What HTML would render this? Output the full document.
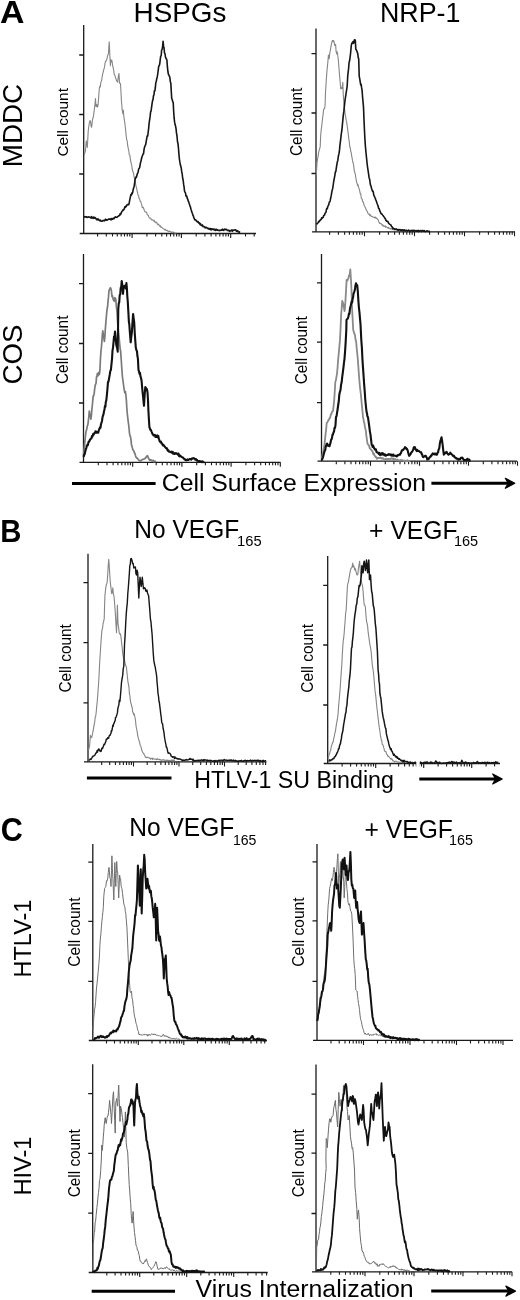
<!DOCTYPE html>
<html><head><meta charset="utf-8"><style>
html,body{margin:0;padding:0;background:#fff;}
svg{display:block;will-change:transform;}
</style></head><body>
<svg width="520" height="1300" viewBox="0 0 520 1300">
<rect width="520" height="1300" fill="#fff"/>
<path d="M83.7,25V233.5M79.7,233.5H256M79.2,55H83.7M79.2,114.5H83.7M79.2,174H83.7" stroke="#1a1a1a" stroke-width="1.3" fill="none"/>
<path d="M97.6,233.5v3M106.3,233.5v3M112.5,233.5v3M117.3,233.5v3M121.2,233.5v3M124.5,233.5v3M127.3,233.5v3M129.8,233.5v3M132.1,233.5v4.5M146.9,233.5v3M155.6,233.5v3M161.8,233.5v3M166.6,233.5v3M170.5,233.5v3M173.8,233.5v3M176.6,233.5v3M179.1,233.5v3M181.4,233.5v4.5M196.2,233.5v3M204.9,233.5v3M211.1,233.5v3M215.9,233.5v3M219.8,233.5v3M223.1,233.5v3M225.9,233.5v3M228.4,233.5v3M230.7,233.5v4.5M245.5,233.5v3M254.2,233.5v3" stroke="#1a1a1a" stroke-width="1.1" fill="none"/>
<path d="M316,28.5V231.8M312,231.8H515M311.5,53.6H316M311.5,113H316M311.5,173.5H316" stroke="#1a1a1a" stroke-width="1.3" fill="none"/>
<path d="M329.6,231.8v3M338.4,231.8v3M344.6,231.8v3M349.4,231.8v3M353.4,231.8v3M356.8,231.8v3M359.7,231.8v3M362.2,231.8v3M364.5,231.8v4.5M379.6,231.8v3M388.4,231.8v3M394.6,231.8v3M399.4,231.8v3M403.4,231.8v3M406.8,231.8v3M409.7,231.8v3M412.2,231.8v3M414.5,231.8v4.5M429.6,231.8v3M438.4,231.8v3M444.6,231.8v3M449.4,231.8v3M453.4,231.8v3M456.8,231.8v3M459.7,231.8v3M462.2,231.8v3M464.5,231.8v4.5M479.6,231.8v3M488.4,231.8v3M494.6,231.8v3M499.4,231.8v3M503.4,231.8v3M506.8,231.8v3M509.7,231.8v3M512.2,231.8v3M514.5,231.8v4.5" stroke="#1a1a1a" stroke-width="1.1" fill="none"/>
<path d="M83.5,254V462.3M79.5,462.3H280.5M79,283.7H83.5M79,343.5H83.5M79,403H83.5" stroke="#1a1a1a" stroke-width="1.3" fill="none"/>
<path d="M98.3,462.3v3M107,462.3v3M113.1,462.3v3M117.9,462.3v3M121.8,462.3v3M125.1,462.3v3M127.9,462.3v3M130.4,462.3v3M132.7,462.3v4.5M147.5,462.3v3M156.2,462.3v3M162.3,462.3v3M167.1,462.3v3M171,462.3v3M174.3,462.3v3M177.1,462.3v3M179.6,462.3v3M181.9,462.3v4.5M196.7,462.3v3M205.4,462.3v3M211.5,462.3v3M216.3,462.3v3M220.2,462.3v3M223.5,462.3v3M226.3,462.3v3M228.8,462.3v3M231.1,462.3v4.5M245.9,462.3v3M254.6,462.3v3M260.7,462.3v3M265.5,462.3v3M269.4,462.3v3M272.7,462.3v3M275.5,462.3v3M278,462.3v3M280.3,462.3v4.5" stroke="#1a1a1a" stroke-width="1.1" fill="none"/>
<path d="M321.5,254V461.2M317.5,461.2H517M317,282.8H321.5M317,342.2H321.5M317,402.7H321.5" stroke="#1a1a1a" stroke-width="1.3" fill="none"/>
<path d="M336.3,461.2v3M344.9,461.2v3M351,461.2v3M355.7,461.2v3M359.6,461.2v3M362.9,461.2v3M365.8,461.2v3M368.3,461.2v3M370.5,461.2v4.5M385.3,461.2v3M393.9,461.2v3M400,461.2v3M404.7,461.2v3M408.6,461.2v3M411.9,461.2v3M414.8,461.2v3M417.3,461.2v3M419.5,461.2v4.5M434.3,461.2v3M442.9,461.2v3M449,461.2v3M453.7,461.2v3M457.6,461.2v3M460.9,461.2v3M463.8,461.2v3M466.3,461.2v3M468.5,461.2v4.5M483.3,461.2v3M491.9,461.2v3M498,461.2v3M502.7,461.2v3M506.6,461.2v3M509.9,461.2v3M512.8,461.2v3M515.3,461.2v3M517.5,461.2v4.5" stroke="#1a1a1a" stroke-width="1.1" fill="none"/>
<path d="M88,553.8V761.9M84,761.9H266.5M83.5,582.6H88M83.5,642.6H88M83.5,702.8H88" stroke="#1a1a1a" stroke-width="1.3" fill="none"/>
<path d="M101.7,761.9v3M109.7,761.9v3M115.4,761.9v3M119.8,761.9v3M123.4,761.9v3M126.5,761.9v3M129.1,761.9v3M131.4,761.9v3M133.5,761.9v4.5M147.2,761.9v3M155.2,761.9v3M160.9,761.9v3M165.3,761.9v3M168.9,761.9v3M172,761.9v3M174.6,761.9v3M176.9,761.9v3M179,761.9v4.5M192.7,761.9v3M200.7,761.9v3M206.4,761.9v3M210.8,761.9v3M214.4,761.9v3M217.5,761.9v3M220.1,761.9v3M222.4,761.9v3M224.5,761.9v4.5M238.2,761.9v3M246.2,761.9v3M251.9,761.9v3M256.3,761.9v3M259.9,761.9v3M263,761.9v3M265.6,761.9v3" stroke="#1a1a1a" stroke-width="1.1" fill="none"/>
<path d="M327.7,556V763.5M323.7,763.5H500M323.2,585.4H327.7M323.2,645H327.7M323.2,705H327.7" stroke="#1a1a1a" stroke-width="1.3" fill="none"/>
<path d="M342.1,763.5v3M350.6,763.5v3M356.6,763.5v3M361.3,763.5v3M365.1,763.5v3M368.3,763.5v3M371,763.5v3M373.5,763.5v3M375.7,763.5v4.5M390.1,763.5v3M398.6,763.5v3M404.6,763.5v3M409.3,763.5v3M413.1,763.5v3M416.3,763.5v3M419,763.5v3M421.5,763.5v3M423.7,763.5v4.5M438.1,763.5v3M446.6,763.5v3M452.6,763.5v3M457.3,763.5v3M461.1,763.5v3M464.3,763.5v3M467,763.5v3M469.5,763.5v3M471.7,763.5v4.5M486.1,763.5v3M494.6,763.5v3" stroke="#1a1a1a" stroke-width="1.1" fill="none"/>
<path d="M92.8,844V1040.5M88.8,1040.5H267M88.3,862.2H92.8M88.3,921.4H92.8M88.3,981.3H92.8" stroke="#1a1a1a" stroke-width="1.3" fill="none"/>
<path d="M106.5,1040.5v3M114.5,1040.5v3M120.2,1040.5v3M124.6,1040.5v3M128.2,1040.5v3M131.3,1040.5v3M133.9,1040.5v3M136.2,1040.5v3M138.3,1040.5v4.5M152,1040.5v3M160,1040.5v3M165.7,1040.5v3M170.1,1040.5v3M173.7,1040.5v3M176.8,1040.5v3M179.4,1040.5v3M181.7,1040.5v3M183.8,1040.5v4.5M197.5,1040.5v3M205.5,1040.5v3M211.2,1040.5v3M215.6,1040.5v3M219.2,1040.5v3M222.3,1040.5v3M224.9,1040.5v3M227.2,1040.5v3M229.3,1040.5v4.5M243,1040.5v3M251,1040.5v3M256.7,1040.5v3M261.1,1040.5v3M264.7,1040.5v3" stroke="#1a1a1a" stroke-width="1.1" fill="none"/>
<path d="M317,844V1040.4M313,1040.4H513M312.5,861.9H317M312.5,920.8H317M312.5,981.4H317" stroke="#1a1a1a" stroke-width="1.3" fill="none"/>
<path d="M331,1040.4v3M339.2,1040.4v3M345,1040.4v3M349.5,1040.4v3M353.2,1040.4v3M356.3,1040.4v3M359,1040.4v3M361.4,1040.4v3M363.5,1040.4v4.5M377.5,1040.4v3M385.7,1040.4v3M391.5,1040.4v3M396,1040.4v3M399.7,1040.4v3M402.8,1040.4v3M405.5,1040.4v3M407.9,1040.4v3M410,1040.4v4.5M424,1040.4v3M432.2,1040.4v3M438,1040.4v3M442.5,1040.4v3M446.2,1040.4v3M449.3,1040.4v3M452,1040.4v3M454.4,1040.4v3M456.5,1040.4v4.5M470.5,1040.4v3M478.7,1040.4v3M484.5,1040.4v3M489,1040.4v3M492.7,1040.4v3M495.8,1040.4v3M498.5,1040.4v3M500.9,1040.4v3M503,1040.4v4.5" stroke="#1a1a1a" stroke-width="1.1" fill="none"/>
<path d="M92.7,1064.2V1272.5M88.7,1272.5H267.7M88.2,1093.7H92.7M88.2,1153.3H92.7M88.2,1213.1H92.7" stroke="#1a1a1a" stroke-width="1.3" fill="none"/>
<path d="M106.8,1272.5v3M115.1,1272.5v3M121,1272.5v3M125.6,1272.5v3M129.3,1272.5v3M132.4,1272.5v3M135.1,1272.5v3M137.5,1272.5v3M139.7,1272.5v4.5M153.8,1272.5v3M162.1,1272.5v3M168,1272.5v3M172.6,1272.5v3M176.3,1272.5v3M179.4,1272.5v3M182.1,1272.5v3M184.5,1272.5v3M186.7,1272.5v4.5M200.8,1272.5v3M209.1,1272.5v3M215,1272.5v3M219.6,1272.5v3M223.3,1272.5v3M226.4,1272.5v3M229.1,1272.5v3M231.5,1272.5v3M233.7,1272.5v4.5M247.8,1272.5v3M256.1,1272.5v3M262,1272.5v3M266.6,1272.5v3" stroke="#1a1a1a" stroke-width="1.1" fill="none"/>
<path d="M316,1064.6V1271.8M312,1271.8H512M311.5,1094.2H316M311.5,1153.2H316M311.5,1213.5H316" stroke="#1a1a1a" stroke-width="1.3" fill="none"/>
<path d="M330.8,1271.8v3M339.4,1271.8v3M345.5,1271.8v3M350.2,1271.8v3M354.1,1271.8v3M357.4,1271.8v3M360.3,1271.8v3M362.8,1271.8v3M365,1271.8v4.5M379.8,1271.8v3M388.4,1271.8v3M394.5,1271.8v3M399.2,1271.8v3M403.1,1271.8v3M406.4,1271.8v3M409.3,1271.8v3M411.8,1271.8v3M414,1271.8v4.5M428.8,1271.8v3M437.4,1271.8v3M443.5,1271.8v3M448.2,1271.8v3M452.1,1271.8v3M455.4,1271.8v3M458.3,1271.8v3M460.8,1271.8v3M463,1271.8v4.5M477.8,1271.8v3M486.4,1271.8v3M492.5,1271.8v3M497.2,1271.8v3M501.1,1271.8v3M504.4,1271.8v3M507.3,1271.8v3M509.8,1271.8v3M512,1271.8v4.5" stroke="#1a1a1a" stroke-width="1.1" fill="none"/>
<polyline points="84.2,155 84.8,152.9 85.4,151.3 86.3,140.8 86.8,144.6 87.3,147.5 87.8,139.1 88.2,131.2 88.7,127 89.2,123.5 89.7,121.1 90.2,120.6 90.7,122.6 91.1,126.2 91.6,127.3 92.1,123.4 92.6,118.7 93,118.3 93.5,115.8 94,112.2 94.5,108.1 95,103.7 95.5,98.5 95.9,106.2 96.4,106.4 96.9,104.5 97.4,107.1 97.9,106.2 98.4,100.9 98.8,95.1 99.3,88.8 99.8,86 100.3,86.9 100.8,82.7 101.2,81.4 101.7,80.2 102.2,76.3 102.7,73.5 103.2,72.2 103.6,70.2 104.1,68.7 104.6,66.4 105.1,62.9 105.6,61.2 106,61.3 106.5,60 107,58.6 107.5,56.2 108,54.4 108.4,54.2 109.2,41.7 109.9,56.2 110.4,65.8 110.8,60 111.3,62 111.8,60 112.3,63.2 112.8,66.5 113.2,67.7 113.7,70.3 114.2,74.4 114.7,74.9 115.2,76.6 115.7,78.3 116.1,79.1 116.6,80.9 117.1,81.4 117.6,82.1 118.1,78.7 118.5,75.3 119,73.5 119.5,83.1 120,83 120.5,84 120.9,90.8 121.4,100.4 122.2,110 122.9,113.8 123.3,110 123.8,116 124.3,119.6 124.8,122.7 125.3,127.3 125.8,131.9 126.2,136 126.7,139.6 127.2,141 127.7,145.6 128.2,148.2 128.8,150.8 129.3,155 129.9,155.2 130.4,160 130.9,161.9 131.3,164.2 131.8,165.8 132.2,169 132.7,170.8 133.2,172.6 133.6,173.3 134.1,177 134.5,178.7 135,180 135.5,183.3 136,186.2 136.5,187.7 137,190.5 137.6,192.9 138.1,195.4 138.6,195.7 139,198.3 139.5,198.7 139.9,200 140.4,201.5 140.9,201.9 141.3,203.4 141.8,204.9 142.2,207.3 142.7,207.7 143.2,207.3 143.7,208.4 144.2,210.1 144.8,211.6 145.3,211.9 145.8,212.3 146.3,212 146.8,212.7 147.3,214.8 147.8,215 148.3,215.5 148.8,216.9 149.3,217.8 149.8,218.3 150.3,218.1 150.8,218.6 151.2,219.1 151.7,220 152.2,219.9 152.7,220 153.2,220.6 153.6,220.9 154.1,220.1 154.5,221.8 155,221.5 155.5,222.5 156,222.8 156.6,222.1 157.1,223.3 157.6,224.5 158.1,224.6 158.6,224.2 159.1,225.3 159.6,226.2 160.2,225.6 160.7,227.2 161.2,226.9 161.7,227.5 162.2,227.6 162.7,228.2 163.2,228.7 163.7,228.9 164.2,229.2 164.7,229.9 165.2,229.4 165.7,229.7 166.1,230.5 166.6,230.3 167.1,230.2 167.6,231.1 168.1,231 168.6,231.7 169.1,231.2 169.5,231 170,231.6 170.5,231.8 170.9,231.9 171.4,232.6 171.9,232.3 172.4,232 172.8,232.8 173.3,232.1 173.7,232.3 174.2,232.8 174.7,233.1 175.1,233.1 175.6,233 176,233 176.5,233" stroke="#858585" stroke-width="1.1" fill="none" stroke-linejoin="round"/>
<polyline points="316.3,175 316.6,169.6 317.1,161.9 317.6,159 318.1,156.3 318.6,152.7 319.1,150.5 319.7,148.8 320.2,146.5 320.7,135 321.2,130 321.7,126.2 322.2,121.3 322.7,117.5 323.1,114.4 323.6,109.8 324.1,108.8 324.6,108.7 325.1,105 325.5,92.5 326.3,80 327,70.4 327.9,61.7 328.4,55 329.2,58.8 329.9,52.1 330.4,50.1 330.8,47.3 331.3,44.6 331.8,42.4 332.3,40.6 332.8,40.6 333.2,41.7 333.7,40.6 334.2,42.6 334.7,45.4 335.1,45.4 335.6,44.4 336.1,51.4 336.6,54 337.1,51.6 337.6,54 338.5,61.7 339.2,71.3 340,80 340.7,88.7 341.3,87.5 341.9,88.7 342.4,85.8 342.8,82.4 343.3,95.4 343.8,101.6 344.3,106.9 344.8,111 345.2,114.6 345.7,116.7 346.2,120.4 346.7,122.3 347.5,128 348.1,132.9 348.6,137.3 349.1,140.4 349.7,146.2 350.2,148 350.7,150.8 351.1,152.5 351.6,155.4 352,157.7 352.5,160.4 353,162.8 353.4,163.7 353.9,167.4 354.3,171 354.8,172.7 355.3,174 355.7,177 356.2,179.9 356.6,182 357.1,183.5 357.6,185.8 358,184.7 358.5,186.9 358.9,188.1 359.4,189.6 359.9,191.9 360.3,194 360.8,193.8 361.2,197.7 361.7,198.8 362.2,199.2 362.7,201.8 363.2,201.7 363.8,204 364.3,205.9 364.8,206.5 365.3,207.4 365.8,208.7 366.3,210.1 366.8,210.7 367.3,211.6 367.8,212.7 368.3,214.1 368.8,214.3 369.4,214.1 369.9,215.8 370.4,214.7 370.9,215.8 371.4,216.5 371.9,216.2 372.4,216.6 373,217.2 373.5,217.2 374,217.3 374.5,217.9 375,217 375.6,217.3 376.1,218.6 376.6,218.1 377.1,218.8 377.6,219.1 378.1,219.7 378.6,221.8 379.2,222.3 379.7,223.4 380.2,223.5 380.7,223.4 381.1,224.1 381.6,223.9 382,225 382.5,225.7 383,224.9 383.4,226.3 383.9,226.3 384.3,226.1 384.8,226.5 385.3,225.9 385.7,227.4 386.2,226.9 386.6,226.9 387.1,227.5 387.6,227.6 388,228.2 388.5,227.4 388.9,228.4 389.4,228.1 389.9,228.8 390.3,229 390.8,228.5 391.2,228.4 391.7,229.2 392.2,229 392.6,229.2 393.1,229.8 393.5,229.4 394,229.6 394.5,228.9 394.9,229.5 395.4,229.1 395.8,230 396.3,229.9 396.8,229.6 397.2,229.9 397.7,230.2 398.1,230 398.6,230.4 399,230 399.5,230.4 400,230.6 400.4,230.7 400.9,229.9 401.3,230.5 401.8,229.6 402.2,229.9 402.7,229.7 403.2,230.7 403.6,230 404.1,230.4 404.5,230.4 405,230.5 405.5,230.5 405.9,230.3 406.4,230.6 406.8,231.1 407.3,230.6 407.7,230.8 408.2,230.9 408.6,230.6 409.1,230.2 409.5,230.5 410,231 410.5,230.1 410.9,230.5 411.4,231 411.8,231 412.3,230.7 412.7,231 413.2,230.8 413.6,230.4 414.1,230.3 414.5,230.6 415,231.1 415.5,230.7 415.9,230.6 416.4,230.6 416.8,230.4 417.3,230.9 417.7,230.6 418.2,231.1 418.6,230.3 419.1,231.1 419.5,230.8 420,231" stroke="#858585" stroke-width="1.1" fill="none" stroke-linejoin="round"/>
<polyline points="83.6,455.6 84.1,449.5 84.5,445.9 85,440.3 85.5,435.4 86,431.7 86.4,430.3 86.8,428.9 87.3,426.1 87.8,424.9 88.2,422 88.8,417.1 89.3,411 89.8,414.3 90.4,416.7 90.9,419.2 91.4,415.7 91.8,410.4 92.3,405.5 92.8,400.4 93.2,395.8 93.7,395.9 94.2,393.6 94.6,389.3 95,386.4 95.5,384.2 96,383.6 96.5,377 96.9,376.7 97.4,373.5 97.9,375.8 98.5,372.7 99,374.6 99.5,374 100,368.8 100.4,359.2 100.9,352 101.4,347.4 101.8,342.5 102.3,335 102.8,330.8 103.3,334.3 103.9,338.3 104.4,341.5 104.9,336.5 105.3,329.4 105.8,323.1 106.3,317.3 106.9,310.5 107.6,306.5 108.1,300.6 108.5,297 109,290.4 109.7,289.2 110.3,287.7 110.8,288.5 111.4,290.6 112,296.6 112.5,295.8 113.1,299.2 113.7,300.3 114.3,301.2 114.8,297.5 115.2,300.3 115.7,298.5 116.3,305.9 117,312 117.5,320.5 117.9,325.1 118.4,330.8 119.1,337.4 119.7,344.2 120.2,349.3 120.6,350.9 121.1,357.7 121.8,368.3 122.4,376.5 122.9,380.3 123.3,382.8 123.8,387 124.3,390.4 124.8,392.8 125.4,391.6 125.9,395 126.4,400.6 126.8,407.8 127.3,413.8 127.8,418 128.2,421.6 128.7,425.2 129.2,430 129.6,434.1 130.1,436.1 130.6,437.2 131,439.8 131.4,444.4 131.9,446 132.4,448 132.9,449.8 133.4,450.6 133.9,451 134.4,453 134.9,453.2 135.4,455.3 135.9,457 136.4,457.5 136.9,458.2 137.4,458.2 137.9,458.9 138.4,459.7 138.9,460.1 139.4,460.7 139.9,461 140.3,460.9 140.8,460.4 141.2,460.6 141.7,460.1 142.2,459.6 142.6,459.4 143.1,459.4 143.5,459.2 144,459 144.4,458.7 144.9,458.6 145.3,458.3 145.9,457.6 146.4,456.4 146.9,456.5 147.5,455.6 148,457.2 148.4,458 148.9,458.8 149.4,460 149.9,460.3 150.3,459.9 150.8,459.7 151.3,460.5 151.8,460.3 152.2,461 152.7,460.5 153.2,460.3 153.6,460.8 154.1,461.8 154.6,461.3 155.1,461.1 155.5,461.4 156,461.8" stroke="#7a7a7a" stroke-width="1.7" fill="none" stroke-linejoin="round"/>
<polyline points="321.8,459 322.6,454 323.2,451.6 323.7,448.9 324.3,446 324.9,440.4 325.5,434.6 326.1,429.8 326.7,423 327.4,422.5 328,421 328.5,420 329,419.5 329.5,418 330,418 330.5,416.1 331,414 331.5,414.1 332,411.6 332.5,411.6 333,411 333.6,406.1 334.2,400 334.8,390.7 335.3,382 335.9,380.3 336.4,377.1 337,373.8 337.6,367.2 338.2,358.8 338.8,352.8 339.3,347.3 339.9,340.9 340.5,330 341.1,315 341.6,309.5 342.2,301 342.7,302 343.2,303.5 343.9,307.4 344.5,311 345,308 345.5,300 346.1,289.6 346.6,280 347.1,280.8 347.5,280.6 348,279 348.5,278 349,275.4 349.5,276 350.3,269.4 351,280 351.5,290 352,307 352.6,318.5 353.2,330 353.8,331.8 354.3,333.5 354.9,334.6 355.5,339.3 356.1,341.5 356.7,348.1 357.2,353.1 357.8,358.8 358.4,367.4 358.9,374.8 359.5,382 359.9,386.4 360.4,390.6 360.9,394.5 361.3,399 361.9,405.7 362.4,410.3 363,417.3 363.5,419.1 363.9,421.9 364.4,423.1 364.8,426.2 365.3,428.8 365.8,430.4 366.2,434.3 366.7,438.2 367.1,441.1 367.6,443.8 368.1,444.6 368.6,445.3 369.1,445.5 369.6,448.1 370.1,448.2 370.6,449.4 371.1,449.6 371.6,450 372.1,451.2 372.6,451.2 373,453.3 373.5,454.2 374,453.7 374.5,455.4 375,456.1 375.4,457 375.9,456.7 376.3,457.4 376.8,458.8 377.3,458.2 377.8,458.2 378.3,457.7 378.9,458.1 379.4,458 379.9,457.9 380.4,457.5 380.9,458 381.3,458.6 381.8,458.7 382.3,457.9 382.8,458.5 383.2,458.5 383.7,458.8 384.2,459.4 384.7,459.3 385.1,459.3 385.6,459.5 386,458.7 386.5,458.8 387,459.2 387.4,459.1 387.9,459 388.3,459.1 388.8,458.8 389.2,459.3 389.7,459.1 390.2,458.9 390.6,458.7 391.1,458.8 391.5,458.1 392,458.8 392.5,458.5 392.9,459 393.4,458.5 393.9,459.3 394.4,459.4 394.9,458.9 395.3,459.4 395.8,459.5 396.3,459.9 396.8,460 397.2,459.9 397.7,459.7 398.2,460.1 398.7,460.2 399.1,460.5 399.6,460.4 400.1,460.5 400.5,460.2 401,460 401.4,460.4 401.9,460.3 402.3,460.2 402.8,460.5 403.2,460.5 403.7,460.7 404.1,460.8 404.6,460.6 405,461.2 405.5,460.6 405.9,461.1 406.4,460.8 406.8,461.2 407.3,460.2 407.7,460.6 408.2,461 408.6,461.1 409.1,461.2 409.5,461.1 410,461" stroke="#8a8a8a" stroke-width="1.8" fill="none" stroke-linejoin="round"/>
<polyline points="88.5,750 89.1,748.1 89.7,744.6 90.4,735.4 91,737.1 91.5,737.7 92.1,736 92.7,733 93.2,730.3 93.8,726.7 94.3,723.8 94.8,721.3 95.2,717.1 95.7,716.2 96.2,712.3 96.8,705.6 97.3,700.8 97.9,692.9 98.5,684.6 99,676.5 99.6,664 100.2,654.2 100.8,645 101.3,637.7 101.9,630.4 102.5,628.5 103.1,623.5 103.7,621.2 104.2,618.8 104.9,595.8 105.8,587.7 106.3,584.6 106.7,584.2 107.2,581.9 107.7,574.7 108.2,565.8 108.8,559.3 109.5,570.4 110,578.3 110.5,584.2 111,587.7 111.6,593.5 112.2,593.1 112.8,587.7 113.3,593.5 113.7,594.6 114.2,598 115.1,609.6 115.6,617.7 116,624.4 116.5,632.7 117,620.7 117.4,605 118,623.5 118.6,627.2 119.2,632.7 119.8,634.1 120.4,633.8 121,637.3 121.5,642 122.1,646.9 122.7,653.5 123.2,656.2 123.6,658.7 124.1,659 124.5,660.1 125,662.7 125.6,665.3 126.2,666 126.7,669.7 127.1,673.8 127.6,678.8 128,682.1 128.5,684.6 129,687.7 129.4,694 129.9,695.6 130.3,700.1 130.8,703 131.3,704.3 131.7,706.7 132.2,707 132.6,712 133.1,712.3 133.6,714.7 134,713.6 134.4,714.5 134.9,717 135.4,719.5 136,725.6 136.5,728.5 137.1,731.2 137.6,734.6 138.2,737.7 138.6,739.2 139.1,741.1 139.6,742.2 140,744.6 140.5,746 140.9,746.5 141.4,748.7 141.8,750.3 142.3,751.5 142.8,752.6 143.3,753 143.8,753.5 144.3,754.9 144.8,755.4 145.3,757.2 145.8,757.3 146.3,757.7 146.8,757.4 147.2,757.4 147.7,757.4 148.2,757.4 148.7,757.7 149.1,758.1 149.6,758.3 150.1,758.4 150.6,759.1 151,758.1 151.5,758.5 152,758.6 152.4,759.5 152.9,758 153.4,758.6 153.8,758.9 154.3,759 154.8,759.2 155.2,759 155.7,759.3 156.2,759.3 156.6,759.6 157.1,758.6 157.6,759.1 158,759.5 158.5,759.6 159,759.2 159.4,759.3 159.9,760 160.3,759.5 160.8,760.1 161.3,760.2 161.7,760 162.2,760.2 162.6,760 163.1,759.5 163.6,760.1 164,760.3 164.5,760 164.9,760.2 165.4,760.3 165.9,760.6 166.3,760 166.8,760.6 167.2,761 167.7,760.1 168.1,760.4 168.6,760.3 169.1,760.9 169.5,760.5 170,760.7 170.4,760.2 170.9,760.4 171.3,760.4 171.8,759.8 172.3,761 172.7,760.8 173.2,759.8 173.6,760.7 174.1,760.4 174.5,760.7 175,760.5" stroke="#858585" stroke-width="1.1" fill="none" stroke-linejoin="round"/>
<polyline points="328,758.5 328.5,757.1 329.1,754.6 329.6,753.8 330.1,751.4 330.7,750.2 331.2,747 331.7,745.4 332.1,744 332.6,742.5 333.1,742.3 333.7,738.3 334.3,736.4 334.9,733 335.4,731.3 336,727.2 336.5,723.8 337.1,720.6 337.7,717 338.1,713.7 338.6,706.1 339.1,700.7 339.5,696.2 340.1,689.1 340.6,681.4 341.2,673 341.8,665 342.3,654.4 342.8,646.5 343.3,640.3 343.7,637.7 344.2,632.7 344.6,627.3 345.1,621.2 345.6,613.5 346.2,609.6 346.8,597.7 347.4,586.5 347.8,583.3 348.3,582.6 348.8,579.4 349.2,577.3 349.8,573.7 350.4,570.4 350.9,568.6 351.5,568 352.1,567.2 352.7,563 353.2,567 353.8,565.7 354.3,568 354.8,570.2 355.2,568.4 355.7,570.4 356.2,572.1 356.8,574.7 357.3,575 357.8,574.4 358.4,568.2 358.9,565.8 359.6,561.2 360.2,569.1 360.8,577.3 361.4,581.1 361.9,584.2 362.5,585.3 363.1,591.2 363.6,598.1 364.2,605 364.8,605.1 365.4,607.3 365.9,614.8 366.5,621.2 367.1,623.4 367.6,626.1 368.2,632.7 368.9,637.4 369.5,642 370.1,645.7 370.6,647.9 371.2,652 371.8,659.6 372.3,665 372.9,668.7 373.5,673 374,678.5 374.6,685.9 375.1,691.5 375.7,695.2 376.3,701.6 376.9,707.7 377.4,711.7 377.9,716.5 378.3,719.6 378.8,723.8 379.3,727.9 379.9,731 380.4,735.4 380.9,737.5 381.3,740.3 381.8,740.4 382.2,744.2 382.7,744.6 383.2,745.5 383.6,747.4 384.1,748.8 384.5,750.8 385,751.5 385.5,751.4 386,751.7 386.5,753.9 387,754.6 387.5,755.2 388,756.6 388.5,756.2 389,756.8 389.4,757.2 389.9,758 390.3,758.2 390.8,759.3 391.3,758.4 391.7,759.3 392.2,759 392.6,760.7 393.1,760.8 393.6,760.8 394,761.4 394.5,762 394.9,761.3 395.4,761.3 395.9,761.3 396.3,761.3 396.8,761.5 397.2,762.1 397.7,762 398.2,762 398.6,762.1 399.1,762 399.5,762.5 400,762.3 400.4,762.1 400.9,762.5 401.4,762.2 401.8,761.9 402.3,762.8 402.7,762.5 403.2,762 403.6,762.8 404.1,762.6 404.5,761.9 405,762.5" stroke="#858585" stroke-width="1.1" fill="none" stroke-linejoin="round"/>
<polyline points="93,1030 93.7,1018.8 94.6,1009.2 95.1,1006.9 95.6,1001.5 96,995.1 96.5,988 97,983.9 97.6,978 98.1,972.7 98.8,964.7 99.4,957 99.9,945.3 100.4,938 100.9,933.9 101.4,926.8 101.9,921.2 102.4,916.2 102.8,912.8 103.3,907.7 103.8,896.2 104.6,888.5 105.2,887.6 105.8,886.5 106.5,880.8 107.1,881 107.7,878.8 108.3,872.4 109,867.3 109.5,873 110,878.8 110.5,879.1 111,886.5 111.5,870.4 111.9,855.8 112.4,868.5 112.9,878.8 113.8,900 114.3,883.6 114.8,862.5 115.3,873.8 115.8,886.5 116.2,873.8 116.7,861.5 117.2,870.1 117.7,873 118.2,884.9 118.7,898 119.6,875 120.1,878.2 120.6,878.8 121.2,886.6 121.9,888.5 122.5,893.3 123.1,898 123.8,903.9 124.4,905.8 124.9,907.2 125.3,911.3 125.8,913.5 126.3,920.1 126.9,927 127.5,940 128.3,959.2 129.2,978.5 129.7,985.3 130.2,991.9 130.8,992.7 131.5,991 132,997.9 132.6,999.9 133.1,1005.4 133.6,1008.7 134.1,1013.5 134.6,1016.9 135.1,1018 135.6,1021.1 136,1023.1 136.5,1024.6 137,1026.3 137.4,1028.8 137.9,1030.4 138.4,1031.4 138.8,1034.2 139.3,1034.9 139.8,1033.9 140.3,1034.6 140.8,1035.2 141.3,1034.8 141.8,1034.7 142.2,1035.3 142.7,1034.7 143.2,1034.4 143.7,1034.7 144.1,1035.2 144.6,1034.2 145.1,1034.3 145.6,1034.6 146.1,1035.2 146.6,1034.8 147,1034.1 147.5,1036 148,1036.1 148.5,1035.2 149,1034 149.4,1034.9 149.9,1035 150.4,1035.2 150.9,1034.9 151.4,1034.3 151.8,1033.7 152.3,1034.2 152.8,1034.4 153.3,1035 153.8,1034 154.2,1034.1 154.7,1034.8 155.2,1033.9 155.7,1034.9 156.2,1035.2 156.7,1035.1 157.1,1035.7 157.6,1035.2 158.1,1035.2 158.6,1035.6 159.1,1035.9 159.5,1035.7 160,1036.2 160.5,1036.1 160.9,1036.3 161.4,1036.4 161.9,1036.6 162.4,1035.2 162.9,1035.2 163.3,1034.3 163.8,1035.2 164.3,1036.4 164.8,1035.3 165.2,1035.9 165.7,1036.4 166.2,1035.7 166.7,1036.8 167.2,1036.8 167.7,1036.2 168.2,1037.4 168.6,1038.1 169.1,1036.9 169.6,1038 170.1,1038.4 170.5,1038.2 171,1038.3 171.4,1038.4 171.9,1038.8 172.3,1038.2 172.8,1038.7 173.2,1038.2 173.7,1038.7 174.1,1038.1 174.6,1038.4 175,1039.2 175.5,1038.8 175.9,1038.5 176.4,1038.2 176.8,1038.4 177.3,1038.8 177.7,1039.2 178.2,1039 178.6,1039.1 179.1,1038.9 179.5,1039.5 180,1039" stroke="#707070" stroke-width="1.0" fill="none" stroke-linejoin="round"/>
<polyline points="317.4,1022 318.1,1016.9 318.6,1013.4 319.1,1010 319.6,1007.3 320.1,1005 320.7,1001 321.2,997.7 321.9,994.5 322.5,991.9 323.1,984.5 323.8,978.5 324.3,974.7 324.9,972.3 325.4,968 325.9,959.5 326.3,950 326.8,934.6 327.7,913.5 328.2,904.8 328.8,900 329.6,888.5 330.1,886.7 330.7,883.7 331.2,880.8 331.7,878.4 332.2,880.8 332.7,878.8 333.4,872.5 334,867.3 334.5,869.6 335,874.5 335.5,878.3 336,878.8 336.5,871.3 336.9,867.1 337.4,858.4 337.9,853.8 338.4,874.8 338.8,888.5 339.3,878.6 339.9,872.7 340.4,861.5 341,869 341.7,878.8 342.2,870.7 342.7,859.6 343.2,876 343.7,881.7 344.2,898 344.7,887.6 345.1,879.7 345.6,869.2 346.2,878.7 346.9,888.5 347.4,892.5 348,902.1 348.5,903.8 349,905.2 349.5,903.7 350,907.7 350.6,911 351.3,911.5 351.8,914.5 352.3,923 353.1,940 353.8,959.2 354.3,965.8 354.7,968.7 355.2,974.6 355.8,990 356.5,990.7 357.1,991 357.6,996.5 358,999.5 358.5,1003.5 359,1006 359.5,1009.6 360,1015 360.5,1018.4 360.9,1020.4 361.4,1021.6 361.9,1024.6 362.4,1027.1 363,1028.8 363.5,1030.4 364.1,1032.7 364.8,1034.2 365.3,1033.1 365.8,1034 366.2,1034.7 366.7,1034.6 367.2,1034.7 367.7,1034.2 368.2,1033.2 368.6,1034.5 369.1,1034.8 369.6,1035.8 370.1,1034.3 370.6,1034.8 371,1035.1 371.5,1035.2 372,1035.5 372.5,1034.7 373,1035.4 373.4,1034.3 373.9,1034.7 374.4,1034.2 374.9,1034.4 375.4,1034.2 375.9,1033.9 376.3,1033.6 376.8,1035.2 377.3,1034.9 377.8,1034.5 378.2,1035.1 378.7,1035.6 379.2,1035.2 379.7,1034.8 380.2,1035.4 380.7,1035.9 381.1,1036 381.6,1035.7 382.1,1034.9 382.6,1036.7 383.1,1036.2 383.6,1036.5 384.1,1036.4 384.5,1036.4 385,1036.8 385.5,1036.6 385.9,1036.4 386.4,1036.6 386.9,1037.1 387.3,1036.9 387.8,1036.9 388.2,1036.7 388.7,1037.6 389.1,1036.7 389.6,1037.7 390.1,1037 390.5,1037.7 390.9,1038.2 391.4,1037.7 391.8,1037.3 392.3,1037.7 392.8,1037.8 393.2,1037 393.6,1037.6 394.1,1038 394.6,1037.7 395,1038 395.5,1038.1 395.9,1038.4 396.4,1038.5 396.8,1038.6 397.3,1038.5 397.7,1038.2 398.2,1038.3 398.6,1038.2 399.1,1038.3 399.5,1038.4 400,1037.8 400.5,1038.4 400.9,1038.6 401.4,1038.2 401.8,1038.7 402.3,1038.9 402.7,1038.7 403.2,1039.6 403.6,1038.1 404.1,1038.8 404.5,1038.2 405,1039" stroke="#707070" stroke-width="1.0" fill="none" stroke-linejoin="round"/>
<polyline points="92.9,1271 93.1,1256 93.2,1244.2 93.7,1239.4 94.2,1232.7 94.7,1231 95.1,1222.9 95.6,1221.2 96.2,1214.6 96.9,1207.7 97.4,1203.2 98,1197 98.5,1192.3 99,1188.5 99.5,1180.5 100,1178.8 100.7,1170.7 101.3,1160 101.8,1145 102.3,1150.4 102.8,1144.2 103.3,1136.9 103.8,1131.2 104.2,1125.4 104.7,1120.5 105.2,1117.7 105.7,1121.7 106.2,1123.5 107.1,1117.7 107.6,1115.9 108.1,1115.8 108.5,1112.3 109,1108.1 109.6,1100.4 110.4,1108.1 111,1114.9 111.5,1123.5 112.3,1108.1 112.9,1096.2 113.5,1091.7 114.2,1108.1 114.7,1120.5 115.2,1133.1 115.8,1102.3 116.2,1100.8 116.7,1098.5 117.2,1103.7 117.7,1106.2 118.2,1094 118.7,1085 119.2,1098.5 120,1121.5 120.6,1106.2 121,1108 121.5,1110 122,1114.9 122.5,1117.7 123,1122.8 123.5,1127.3 124,1134.2 124.4,1136.9 124.9,1127.8 125.4,1111.9 126.2,1142.7 126.9,1148.5 127.7,1152 128.3,1165.4 129.2,1184.6 129.7,1190.1 130.2,1198.1 130.7,1203.4 131.2,1213.5 131.6,1219.3 132.1,1223.1 132.6,1219 133.1,1211.5 133.6,1220.2 134,1226.9 134.5,1232.5 135,1236.5 135.5,1240.2 136,1245 136.5,1246.5 137,1247.4 137.4,1250.3 137.9,1250.4 138.3,1251.2 138.8,1254.2 139.3,1255.4 139.8,1259.5 140.3,1261.3 140.8,1262 141.3,1262 141.8,1262.4 142.2,1263.5 142.7,1263.8 143.2,1262.9 143.6,1263.7 144.1,1262.4 144.6,1262 145.1,1260.5 145.6,1261.4 146,1259.4 146.5,1259 147,1260.8 147.5,1262.4 148,1263.9 148.5,1265.8 149,1266.6 149.4,1266.7 149.9,1266.8 150.4,1267.3 150.8,1268.4 151.3,1269.6 151.8,1268.6 152.3,1268.3 152.8,1267.7 153.2,1267.4 153.7,1266.5 154.2,1265.8 154.7,1264.4 155.2,1263.5 155.7,1261.7 156.2,1262 156.7,1263.8 157.1,1266.1 157.6,1268 158.1,1269.6 158.6,1269.2 159.1,1268.9 159.6,1269.1 160,1268.3 160.5,1268.4 161,1267.7 161.5,1268.2 161.9,1268.1 162.4,1268.9 162.9,1268.1 163.3,1268.4 163.8,1268.7 164.3,1268 164.8,1267.6 165.2,1268.5 165.7,1268.3 166.2,1267 166.7,1266.7 167.2,1267.5 167.7,1268.3 168.1,1268.6 168.6,1269.2 169.1,1268.5 169.6,1269.6 170,1269.4 170.5,1270 170.9,1270.5 171.4,1269.9 171.8,1269.6 172.3,1269.9 172.8,1269.8 173.2,1269.8 173.7,1270.9 174.1,1270.1 174.6,1270.4 175,1270.5 175.5,1271.4 175.9,1271 176.4,1270.7 176.8,1270.3 177.3,1270.8 177.7,1271.3 178.2,1270.9 178.6,1271.2 179.1,1270.7 179.5,1270.9 180,1270.7 180.5,1270.9 180.9,1271.3 181.4,1270.2 181.8,1270.8 182.3,1271 182.7,1270.7 183.2,1270.8 183.6,1271.2 184.1,1271.8 184.5,1271.2 185,1271" stroke="#6a6a6a" stroke-width="1.0" fill="none" stroke-linejoin="round"/>
<polyline points="316.5,1262 316.7,1247 317.2,1245 317.6,1240.9 318.1,1240 318.6,1239.1 319,1234.6 319.5,1231.7 319.9,1227.8 320.4,1226.2 320.9,1222 321.3,1216.6 321.8,1213.8 322.2,1210.1 322.7,1205.4 323.2,1200 323.8,1195 324.3,1189.2 324.8,1182.9 325.2,1180.9 325.7,1172.7 326.2,1168.5 325.9,1160 326.2,1138.5 326.8,1140.2 327.3,1147.7 327.9,1138.1 328.5,1129.2 329.1,1122.7 329.6,1118.8 330.2,1118.8 330.8,1122.3 331.4,1118.8 331.9,1116.5 332.5,1116.5 333.1,1115.4 333.6,1108.7 334.2,1106.2 334.8,1103.1 335.4,1100.4 335.9,1109.3 336.5,1113.1 337.1,1121.2 337.7,1126.9 338.2,1109.3 338.8,1092.3 339.4,1099.5 340,1106.2 340.6,1102.5 341.2,1099.2 341.8,1104.9 342.3,1110.8 342.9,1099.4 343.5,1085.4 344.1,1089.8 344.6,1094.6 345.2,1085.1 345.8,1083.1 346.4,1094.6 346.9,1106.2 347.5,1111.5 348.1,1120 348.6,1118.8 349.2,1115.4 349.8,1124.8 350.4,1136.2 350.9,1139.9 351.5,1143.1 352.1,1148.6 352.7,1147.7 353.2,1152.2 353.8,1160 354.5,1170 355,1187 355.6,1192.4 356.2,1200.8 356.8,1208.3 357.3,1219.2 357.9,1212.3 358.5,1210 359.1,1217.1 359.6,1228.5 360.2,1235.8 360.8,1242.3 361.4,1245.6 361.9,1250 362.7,1252 363.2,1251.9 363.7,1253.6 364.2,1256.4 364.8,1256.8 365.3,1258.4 365.8,1260 366.3,1260.6 366.7,1261.6 367.2,1262.4 367.6,1262.2 368.1,1262 368.6,1262.4 369,1263.8 369.5,1263.9 369.9,1263.2 370.4,1263.8 370.9,1263.8 371.3,1263.5 371.8,1263.2 372.3,1262.6 372.8,1261.9 373.2,1262.1 373.7,1261.3 374.2,1262 374.7,1263.2 375.2,1263.3 375.7,1262.7 376.1,1264.7 376.6,1264.9 377.1,1263.8 377.6,1266.3 378.1,1265.8 378.6,1266 379.1,1266.4 379.5,1264.4 380,1265.1 380.5,1264.8 380.9,1264.4 381.4,1264.2 381.9,1263.8 382.4,1264.7 382.9,1263.6 383.3,1264.1 383.8,1264.3 384.3,1265.1 384.8,1265.4 385.3,1266.3 385.8,1266.5 386.2,1266.7 386.7,1266.7 387.2,1267.2 387.7,1267.7 388.2,1268 388.7,1267.8 389.1,1267.3 389.6,1266.9 390.1,1267.7 390.6,1266.4 391.1,1266.9 391.6,1267 392.1,1266.1 392.5,1266.6 393,1265.4 393.5,1265.8 394,1266.7 394.4,1266.5 394.9,1265.9 395.4,1267.4 395.9,1266.9 396.4,1268.3 396.8,1267.7 397.3,1268.3 397.8,1268.8 398.2,1268.8 398.7,1269.4 399.2,1269.6 399.6,1269.4 400.1,1270 400.6,1269.7 401,1269.8 401.4,1268.9 401.9,1270.3 402.3,1269.9 402.8,1269.2 403.2,1270 403.7,1270.2 404.1,1270.5 404.6,1269.6 405.1,1270.7 405.5,1270.1 405.9,1271 406.4,1270.1 406.9,1270.5 407.3,1270.1 407.8,1269.9 408.2,1270.8 408.6,1270.7 409.1,1271 409.6,1270.8 410,1270.5" stroke="#6a6a6a" stroke-width="1.0" fill="none" stroke-linejoin="round"/>
<polyline points="84,217.5 84.5,217.1 85,216.5 85.5,217 86,216.9 86.5,216.8 87,217.4 87.5,217.2 88,217 88.5,216.9 88.9,217.2 89.4,217.1 89.8,217.3 90.3,217.6 90.7,217.8 91.2,217 91.6,216.6 92.1,218.2 92.5,217.5 93,217.5 93.5,218.3 93.9,217 94.4,217.9 94.8,218.2 95.3,217.7 95.7,218.3 96.2,219.1 96.6,219.5 97.1,220 97.5,218.9 98,219.5 98.5,219 99,220.3 99.5,220.7 100,220.6 100.5,220.1 101,221 101.5,221.3 102,221.2 102.5,221 103,220.4 103.5,220.7 104,220.5 104.5,220.8 105,220 105.5,219.2 106,220.2 106.5,220.1 107,219.8 107.5,220.1 108,219.5 108.5,219.1 109,219.2 109.5,219 110,219.3 110.5,219.7 111,218.6 111.5,219.7 112,218.5 112.5,219.1 113,218.6 113.5,218.3 114,218.8 114.5,217.6 115,217.5 115.5,216.8 116,217.2 116.5,217.2 117,217.4 117.5,216.7 118.1,216.4 118.6,215.8 119.1,215.7 119.6,215.4 120.1,213.8 120.6,214.5 121.2,212.9 121.7,211.7 122.2,211.1 122.7,210.8 123.2,209.5 123.7,209.8 124.2,209.1 124.8,206.9 125.3,207.5 125.8,206.2 126.3,206.5 126.8,205.3 127.3,204.5 127.8,204.7 128.3,204.5 128.8,204.6 129.3,202.3 129.9,199.2 130.4,196.9 130.9,194.6 131.3,195.2 131.8,193.1 132.2,193.8 132.7,192.3 133.2,189.4 133.7,187.7 134.2,186.2 135,180 135.5,178.1 135.9,177.1 136.4,177.3 136.8,175.7 137.3,173.8 137.8,173.1 138.2,171.6 138.7,168.9 139.1,168.5 139.6,167.7 140.1,165.1 140.5,162.5 140.9,161.6 141.4,159 141.9,157.1 142.4,155.8 143,154.2 143.5,153.8 144.2,148.4 144.8,146.5 145.3,145.3 145.8,144.2 146.2,141.4 146.7,138.6 147.2,135.9 147.7,136 148.2,132 148.6,128.8 149.1,123.5 149.6,119.9 150.1,116.7 150.6,111.9 151.1,110.9 151.5,107.9 152,104.2 152.5,100.9 153,99.6 153.5,95.6 154,94.8 154.4,90.7 154.9,90.8 155.4,87.2 155.8,82.8 156.3,81.2 156.8,78.5 157.3,76.7 157.8,73.5 158.3,69.7 158.7,66.1 159.2,65.8 159.7,64.1 160.2,59.8 160.7,56.2 161.2,55.7 161.6,50.1 162.1,49.4 162.6,46.6 163.1,41.2 163.6,46.8 164,47.5 164.5,53.1 165,53.7 165.5,57.1 166,58.4 166.4,58.9 166.9,60 167.4,66.9 167.9,71.5 168.4,74.3 168.8,74.8 169.3,76.3 169.8,77 170.3,81.7 170.8,83.1 171.7,98.5 172.2,99.3 172.7,101.7 173.2,102.3 173.6,110.3 174.1,117.7 174.6,122.2 175.1,124.6 175.6,126.3 176.1,129.1 176.5,133.1 177,136 177.5,141.8 178,143.8 178.5,148.5 178.9,154.1 179.4,159 180,162.9 180.6,165.8 181.2,167.7 181.7,171.7 182.2,173.9 182.7,178.5 183.2,180.3 183.6,184.2 184.1,187.1 184.5,191 185,192.3 185.5,192.9 185.9,195.6 186.4,196.5 186.8,196.1 187.3,198.5 187.8,199.2 188.2,201 188.7,201.8 189.1,203.3 189.6,204.6 190.1,206.4 190.5,207.2 191,209.5 191.4,210.4 191.9,212.3 192.4,213.2 192.8,215.1 193.3,215.7 193.7,217.4 194.2,218.5 194.7,219.8 195.2,219.5 195.7,219.9 196.2,220.9 196.7,220.8 197.2,222 197.7,222 198.2,221.7 198.6,223 199.1,222.8 199.5,223 200,224.5 200.5,223.6 200.9,225.1 201.4,225 201.8,225.7 202.3,224.9 202.8,226.2 203.2,226.6 203.7,226.3 204.1,226.6 204.6,227 205.1,228 205.5,227.4 206,227.3 206.4,227.4 206.9,228 207.4,228.1 207.8,228.2 208.3,229 208.8,228.3 209.2,228.8 209.7,229.3 210.2,228.5 210.6,229.4 211.1,229.9 211.5,228.8 212,229.5 212.5,229.1 212.9,229.2 213.4,229 213.9,229.9 214.4,229.1 214.8,230 215.3,230.5 215.8,229.4 216.2,229.9 216.7,229.4 217.2,230.4 217.6,229.9 218.1,230.2 218.6,230.3 219.1,230.6 219.5,230.3 220,230.5 220.5,230.4 220.9,230.1 221.4,230.3 221.8,229.7 222.3,230.1 222.7,229.2 223.2,229.7 223.6,230.5 224.1,229.7 224.5,229.1 225,229.5 225.5,229.7 225.9,229.4 226.4,229.3 226.8,229.8 227.3,230.5 227.7,230.5 228.2,230.4 228.6,230.2 229.1,230.3 229.5,231.4 230,231 230.5,231 230.9,230.5 231.4,230 231.8,230.1 232.3,231.3 232.7,230 233.2,230.3 233.6,230.4 234.1,230.1 234.5,230 235,230 235.5,229.7 235.9,230.1 236.4,231.3 236.8,230.6 237.3,231.4 237.7,230.8 238.2,231.5 238.6,231.9 239.1,232.4 239.5,231.9 240,232.5" stroke="#151515" stroke-width="1.6" fill="none" stroke-linejoin="round"/>
<polyline points="316.5,224.5 317.1,223.5 317.6,223.3 318.1,222.6 318.6,221.6 319.2,221.7 319.7,220.5 320.2,220.4 320.7,219.5 321.2,219.4 321.7,217.8 322.2,218.3 322.7,217.3 323.2,217.3 323.7,215.6 324.1,215.2 324.6,215 325,213.4 325.5,212.7 326,212.2 326.4,209.6 326.9,208.2 327.3,208.7 327.8,206.5 328.3,205.5 328.8,204.6 329.2,202.3 329.7,202.1 330.2,200.4 330.7,198 331.2,195.7 331.7,192.7 332.2,190.2 332.7,188.4 333.2,185 333.7,181.5 334.3,178.1 334.8,175.8 335.3,172.1 335.8,171.6 336.3,168.1 336.8,164.9 337.3,162.1 337.8,160.4 338.3,156.5 338.9,153.9 339.4,151.2 339.9,145.4 340.4,141.7 340.9,137.3 341.4,133.1 341.9,130 342.4,124.7 342.8,120.4 343.3,115.1 343.8,111.7 344.3,106.9 344.8,102.1 345.3,98.4 345.7,95.8 346.2,92.5 346.7,89.4 347.2,85.8 347.7,76.2 348.1,72.7 348.6,68.5 349.1,62.3 349.6,60.8 350.5,54 351.3,45.4 351.9,43.3 352.5,42.5 353,41.5 353.4,43.4 353.9,42.5 354.4,39.8 354.8,40 355.3,40.1 355.8,49.2 356.3,49.8 356.8,51.2 357.3,52.2 357.8,54 358.2,57.6 358.7,58.8 359.2,76.2 359.7,78.6 360.2,81.9 360.7,84.9 361.1,84.2 361.6,87.7 362.1,90.5 362.6,97.3 363.5,106.9 364,120 364.8,137.3 365.4,146.1 366,152.7 366.6,158.5 367.1,163.5 367.6,167.5 368.1,170.7 368.6,174.2 369.1,177.7 369.7,179.5 370.2,183.5 370.7,185.7 371.1,186.2 371.6,188.8 372,189.7 372.5,191.2 373,191.1 373.4,192.8 373.9,195.6 374.3,196 374.8,197.3 375.3,198.3 375.7,199.9 376.2,200.7 376.6,201.9 377.1,203.5 377.6,204.8 378.1,206.2 378.6,208.3 379.2,208.7 379.7,211 380.2,211.2 380.7,213 381.2,213.7 381.7,214.1 382.2,214.3 382.7,215.1 383.2,215.8 383.7,216.5 384.2,217 384.8,218.1 385.3,218.5 385.8,220.4 386.3,220.4 386.8,221.3 387.3,221.5 387.9,221.4 388.4,222.9 388.9,223.4 389.4,224.2 389.9,224.2 390.4,224.7 390.9,224.9 391.5,226.5 392,226.8 392.5,227.3 393,228.6 393.5,228.3 394,228.8 394.5,228.8 394.9,229.5 395.4,229.1 395.8,229.2 396.3,229.1 396.8,229.1 397.2,230 397.7,229.9 398.2,230.2 398.6,229.6 399.1,229.8 399.5,229.6 400,230 400.5,230.4 400.9,229.6 401.4,230.3 401.8,230.5 402.3,230.7 402.7,229.9 403.2,230.6 403.6,230.1 404.1,230.1 404.5,229.9 405,230.8 405.5,231 405.9,230.3 406.4,230.3 406.8,230.4 407.3,231.2 407.7,230.9 408.2,230.5 408.6,230.1 409.1,230.5 409.5,231.1 410,230.8 410.5,231.4 410.9,230.7 411.4,230.6 411.8,230.7 412.3,230.3 412.7,231.2 413.2,230.5 413.6,231.2 414.1,230.4 414.5,230.5 415,231 415.5,230.7 415.9,231.2 416.4,231 416.8,230.6 417.3,231.2 417.7,231.3 418.2,230.4 418.6,231.6 419.1,231.2 419.5,231.3 420,230.5 420.5,230.8 420.9,231 421.4,231.4 421.8,230.6 422.3,230.8 422.7,230.5 423.2,231.1 423.6,231.2 424.1,230.6 424.5,231 425,231.3 425.5,231.7 425.9,231.4 426.4,231.1 426.8,230.9 427.3,230.9 427.7,231 428.2,231.3 428.6,231.3 429.1,231.8 429.5,231.4 430,231.3" stroke="#151515" stroke-width="1.6" fill="none" stroke-linejoin="round"/>
<polyline points="83.6,457 84.1,454.8 84.6,454.6 85,452.7 85.5,450.5 86,448.8 86.5,447.3 86.9,445.4 87.4,445 87.8,445.3 88.3,443 88.7,441.6 89.2,441.6 89.6,440.6 90.1,439.4 90.5,439.2 91,438.6 91.4,438.5 91.9,436.1 92.3,436.9 92.8,435.4 93.2,433.9 93.7,434.6 94.2,433.5 94.6,432.9 95,432.8 95.5,431.3 96,431.5 96.4,432.7 96.8,432.7 97.3,432.3 97.8,432 98.2,432.7 98.7,430.7 99.1,429.5 99.6,428.5 100,427.3 100.5,427.8 100.9,424.6 101.4,423 102,421 102.5,417.3 103.1,415.3 103.6,413.8 104,411.2 104.5,409.5 104.9,406 105.4,406.6 105.8,402 106.3,400.4 106.9,395 107.6,387 108,381.9 108.5,381.7 108.9,379.3 109.4,376.6 109.8,374.4 110.3,371 110.9,370 111.4,364.8 112,359.1 112.5,350.6 113,347.7 113.5,342.6 114,336.7 114.5,336.5 115,331.5 115.7,338.7 116.3,345 116.8,347 117.2,348.3 117.7,351.7 118.3,308.6 118.8,303.2 119.2,302.7 119.7,295.2 120.2,294.6 120.7,288 121.2,286.8 121.7,281 122.3,284.7 123,293.8 123.5,287.9 123.9,287.6 124.4,285.8 125.1,285.7 125.7,288.5 126.4,283 126.9,288.4 127.3,296 127.8,302 128.4,312.7 128.9,322.1 129.3,324.2 129.8,331.5 130.7,342.3 131.2,337.7 131.8,332.9 132.4,323.9 133.1,314 133.6,318 134.2,322.1 134.7,332.3 135.2,339.6 135.8,347.6 136.5,350.4 137,351.3 137.4,356 137.9,358.4 138.5,370 139,371.3 139.5,373.7 140,372.9 140.5,376.5 141,377.8 141.6,381 142.1,387 142.6,392.3 143.1,396.6 143.5,401.2 144,405.8 144.7,394.1 145.3,387 145.9,387.9 146.4,388.8 146.9,389.3 147.5,392.3 148,400 148.4,410.5 148.9,419.1 149.4,427.3 149.9,428.3 150.4,429.8 150.9,429.8 151.4,431.4 151.9,432.4 152.4,433.8 152.9,434.3 153.4,435.4 153.9,435.3 154.4,435.3 154.9,434.9 155.4,437 155.9,435.8 156.4,435.8 156.9,437 157.4,435.4 157.9,437.4 158.3,436 158.8,438.7 159.2,439.7 159.7,441.4 160.1,441.8 160.6,442.3 161,441.7 161.5,443.5 162,443.4 162.5,444.7 163,445.4 163.5,444.8 164,445.7 164.5,446.2 165,447 165.5,447.5 166,448.2 166.5,448.3 167,448.2 167.5,450.3 168,451 168.5,450.4 169,451.6 169.5,451.5 169.9,451.9 170.4,452.2 170.8,452.2 171.3,451.5 171.8,452.5 172.2,452.9 172.7,451.8 173.1,453.7 173.6,453.8 174,453.8 174.5,454 174.9,453 175.3,453.6 175.8,453.2 176.2,453.3 176.7,453.4 177.2,454.1 177.6,454.3 178.1,454.9 178.5,453.6 179,456 179.4,456.3 179.9,455.4 180.3,455.6 180.8,456.4 181.3,456.7 181.8,457 182.3,457.2 182.8,457.6 183.2,457.7 183.7,458.6 184.2,458.9 184.7,459.5 185.2,459.4 185.7,460.2 186.1,460.1 186.6,460 187,460.1 187.5,459.3 187.9,459.9 188.4,460 188.8,459.7 189.3,459.2 189.8,459 190.2,459 190.7,459.4 191.1,459.6 191.6,458.8 192,458.4 192.5,458.8 192.9,458.6 193.4,458 193.8,458.3 194.3,458.3 194.8,458.9 195.3,459.6 195.8,459.1 196.3,459.6 196.8,460.5 197.3,460.2 197.8,461 198.3,461.1 198.8,461.3 199.2,461.2 199.7,461 200.2,461.4 200.7,461.4 201.2,461.8 201.6,461.5 202.1,462.2 202.6,461.4 203.1,462 203.5,462.1 204,462.3 204.5,462.3" stroke="#111" stroke-width="2.1" fill="none" stroke-linejoin="round"/>
<polyline points="321.8,460.5 322.3,458.9 322.7,458.1 323.2,456.5 323.8,454 324.3,452 324.8,450.8 325.3,449.8 325.7,446.8 326.2,445.7 326.7,443.8 327.2,443.6 327.6,445.2 328.1,445.8 328.6,445.4 329,445.1 329.5,446.2 330,444.4 330.5,442.9 331,440 331.5,439.4 332,437.9 332.5,434.6 333,434.6 333.5,432.1 334,431.9 334.5,427.8 335,427.9 335.5,425 336,417 336.5,416.4 337,413.1 337.5,410 338.2,405 338.8,401 339.3,394.6 339.9,391.9 340.5,390 341.1,384.6 341.7,382 342.2,377.2 342.8,372.7 343.4,367.8 343.9,363.4 344.5,358.8 345.1,351.1 345.7,341.5 346.3,330 346.5,320 347,319.1 347.5,318.9 348,318 348.5,316.4 348.9,313.6 349.4,314.1 349.8,309.9 350.3,307 350.8,305.5 351.2,303.5 351.7,301.3 352.1,302.6 352.6,299 353.1,297.3 353.5,293.6 354,292.5 354.4,291.3 354.9,289.6 355.4,285.7 356,283.3 356.6,285.9 357.2,285 357.8,291.2 358.4,301 358.9,307.6 359.5,312.7 360,318.6 360.5,324 361.3,340 361.9,347.9 362.4,358.8 363,367.6 363.6,376.2 364.1,383.6 364.7,391.2 365.3,400 365.9,406.2 366.5,411.5 367,413.4 367.4,416.4 367.9,416.9 368.3,419.7 368.8,423 369.4,427.5 369.9,431.6 370.5,434.6 371.1,439.8 371.7,445 372.2,445.2 372.6,446.9 373.1,445.5 373.6,446.8 374,448.3 374.5,448.5 375,449.6 375.5,449.3 376,449.5 376.5,452.1 377,452.1 377.5,452.7 378,452.5 378.5,453.4 378.9,454.1 379.4,452.9 379.9,454.9 380.4,454.6 380.9,454.8 381.4,453.3 381.9,454.5 382.3,453.1 382.8,454.4 383.3,453.7 383.8,454.2 384.3,455.4 384.8,454.3 385.2,455 385.7,455.8 386.2,455.6 386.7,455.1 387.1,454.9 387.6,454.9 388.1,454.9 388.6,454.2 389.1,454.8 389.5,454.7 390,454.2 390.5,454.4 390.9,455.4 391.4,454.6 391.9,455.6 392.4,454.8 392.9,455.6 393.3,454.5 393.8,455.6 394.3,455.8 394.8,455.8 395.2,455.8 395.7,455.9 396.2,456.2 396.7,456.5 397.2,455.9 397.6,455 398.1,455.4 398.6,455.1 399.1,454.9 399.5,454.3 400,454.6 400.5,453.6 400.9,453.2 401.4,451.7 401.8,450.6 402.3,450 402.8,450.2 403.4,449.5 403.9,448.9 404.5,448.5 405,447.2 405.5,447.4 406,447.9 406.5,449.1 407,448.8 407.6,450.2 408.1,452.2 408.6,454.2 409.2,455.8 409.7,455.3 410.1,454.3 410.6,454.2 411,452.9 411.5,452.3 412,451.9 412.4,451.2 412.9,450.1 413.4,449.3 413.8,447.3 414.3,447.2 414.8,447.1 415.2,448.2 415.7,449.6 416.2,450 416.7,451.1 417.1,449.8 417.6,450.9 418,450.5 418.5,451.2 419,451 419.6,451.5 420.1,452.2 420.7,452.2 421.2,452.3 421.6,454.1 422.1,454.2 422.6,456.3 423,457 423.5,457.2 424,456.6 424.4,456.5 424.9,455.8 425.4,455.8 425.9,456 426.3,457 426.8,457.6 427.2,459.4 427.7,459.3 428.2,458.6 428.6,459.1 429.1,458 429.5,457.6 430,457 430.5,456.8 430.9,455.5 431.4,455.8 431.8,454.9 432.3,454.2 432.8,453.3 433.2,454.2 433.7,454.1 434.1,453.9 434.6,453.5 435.1,454.5 435.6,453.7 436,454.4 436.5,454.8 437,454.6 437.6,452.7 438.1,452.4 438.6,449.4 439.2,448.8 439.8,443.9 440.4,440.8 440.9,439.4 441.5,437.3 442.1,440.6 442.7,445.4 443.2,449.9 443.8,454.6 444.3,453.3 444.8,453.7 445.2,452.6 445.7,452.9 446.2,452.3 446.7,451.9 447.1,453.5 447.6,453.5 448,454.2 448.5,454.6 449,454.3 449.4,454.2 449.9,453.3 450.3,452.7 450.8,453.5 451.4,454.1 451.9,454.2 452.4,455 453,455.8 453.5,456.4 454,455.8 454.4,456.8 454.9,457.3 455.4,458 455.9,457.8 456.4,458.6 456.9,458.7 457.4,458.6 457.9,458.8 458.4,459.8 458.9,459.7 459.4,459.1 459.9,459.3 460.4,459 460.8,457.7 461.3,457.7 461.8,457.9 462.3,457.6 462.8,458.3 463.2,459 463.7,459.6 464.1,460.2 464.6,460.4 465.1,460.1 465.6,460 466.1,460.2 466.5,459.6 467,459.9 467.5,458.8 468,459.2 468.5,459.8 469,459.9 469.4,459.6 469.9,461 470.4,461" stroke="#111" stroke-width="2.1" fill="none" stroke-linejoin="round"/>
<polyline points="88.8,760.3 89.2,760.1 89.7,759.7 90.2,758.9 90.6,758.9 91,759.5 91.5,758.5 92,757.6 92.5,756.5 93,756.6 93.5,755.9 94,755.9 94.5,755.3 95,755 95.5,753.7 96,752.9 96.5,753.1 97,750.8 97.5,752.1 98,749.7 98.5,749.2 99,749 99.4,750.6 99.9,750.9 100.3,750.4 100.8,751.5 101.3,751 101.7,748.5 102.2,748.1 102.6,748.6 103.1,746.9 103.6,745.8 104,744.1 104.5,744.5 104.9,743.9 105.4,742.3 105.9,741.4 106.3,739.1 106.8,739.3 107.2,738.9 107.7,737.7 108.2,737.9 108.6,738.3 109.1,736.1 109.5,735.5 110,735.4 110.5,734 110.9,733.7 111.4,730.5 111.8,731 112.3,728.5 112.8,725.3 113.2,726.4 113.7,723.7 114.1,723.3 114.6,721.5 115.1,720.8 115.5,717.6 116,717.3 116.4,716.2 116.9,714.6 117.4,712.9 117.8,709 118.3,706.6 118.8,705.4 119.3,700.2 119.9,701.5 120.4,696.2 121,689 121.5,682.3 122.1,678.6 122.7,675.4 123.2,668.9 123.8,666.2 124.5,645 125.1,635.6 125.7,623.5 126.2,614.6 126.8,607.3 127.3,602.8 127.8,593.5 128.3,588 128.9,579.6 129.4,572.7 129.8,565.8 130.3,564.6 130.7,558.9 131.2,558.4 131.7,559.5 132.1,560.8 132.6,563.5 133.2,563.5 133.8,568 134.3,567.7 134.9,567.1 135.4,567 135.9,573.5 136.5,575 137.1,570.3 137.7,572.7 138.2,584.2 138.8,598 139.4,586.1 140,577.3 140.6,581.1 141.2,586.5 141.8,582.6 142.3,577.3 142.9,583.7 143.5,588.8 144.1,588.3 144.6,587.7 145.2,588.5 145.8,591 146.4,591.3 146.9,590 147.5,592.9 148.1,594.6 148.6,595.6 149.2,602.7 149.8,610.3 150.4,618.8 150.9,621.3 151.5,628 152.1,634.3 152.7,644.2 153.2,652.5 153.8,660.4 154.3,663 154.8,665.6 155.2,666.8 155.7,670.2 156.2,673 156.7,676.5 157.1,682.8 157.6,687.7 158,693.6 158.5,696.2 159,701.3 159.4,702.7 159.9,706.8 160.3,709.9 160.8,714.6 161.3,717.7 161.7,722.1 162.2,723.6 162.6,723.9 163.1,728.5 163.6,730.2 164,732.9 164.5,737.2 164.9,739.5 165.4,742.3 165.9,744.4 166.3,747.2 166.8,747.3 167.2,749.1 167.7,751.5 168.2,753.3 168.7,753 169.2,753.1 169.7,753.1 170.2,754 170.7,754.5 171.2,756.2 171.7,756.4 172.1,756.6 172.6,757.3 173.1,756.9 173.6,756.8 174.1,757 174.5,758.5 175,756.9 175.5,758 175.9,758.1 176.4,758.6 176.9,758.5 177.4,758.4 177.8,759 178.3,759.2 178.7,758.9 179.2,758.9 179.7,759.1 180.1,758.9 180.6,759.4 181,759.5 181.5,759.8 182,760.4 182.4,760.5 182.9,759.9 183.3,760.4 183.8,760.3 184.3,760.3 184.7,760.4 185.2,760 185.7,760.1 186.1,759.7 186.6,759.5 187.1,760.1 187.5,760.1 188,759.8 188.5,759.6 188.9,759.5 189.4,759.1 189.9,758.4 190.3,759.4 190.8,759 191.3,759.3 191.7,759.1 192.2,759.1 192.6,760.2 193.1,759.2 193.6,760.8 194,760.5 194.5,761.2 194.9,760.4 195.4,760.8 195.9,760.8 196.3,760.5 196.8,760.7 197.2,760.6 197.7,760.3 198.1,761 198.6,760.2 199.1,760.3 199.5,760.7 200,760.2 200.4,760.2 200.9,760.5 201.3,760.2 201.8,759.8 202.3,760.2 202.7,760.1 203.2,760.8 203.6,759.7 204.1,760.5 204.5,759.7 205,760 205.5,759.9 205.9,760 206.4,760.2 206.8,760.5 207.3,760.9 207.7,760 208.2,760.8 208.6,760.7 209.1,760.7 209.5,760.2 210,760.8 210.5,760.5 210.9,760.7 211.4,760.5 211.8,760.9 212.3,761.1 212.7,761.2 213.2,760.7 213.6,761.2 214.1,761.4 214.5,760.6 215,761 215.5,761.5 215.9,760.4 216.4,761.1 216.8,761 217.3,761.3 217.7,760.8 218.2,760.5 218.6,760.3 219.1,760.1 219.5,760.8 220,760.4 220.5,760.2 220.9,760.6 221.4,760.1 221.8,760.1 222.3,760.1 222.7,760.9 223.2,760.8 223.6,760.1 224.1,759.5 224.5,760.2 225,760 225.5,760.1 225.9,760.2 226.4,760.3 226.8,760 227.3,760.5 227.7,760.5 228.2,760.3 228.6,760.1 229.1,760.1 229.5,760.6 230,759.9 230.5,760.3 230.9,760.1 231.4,759.9 231.8,760.7 232.3,760.5 232.7,760.5 233.2,760.9 233.6,760 234.1,760.6 234.5,760.7 235,761 235.5,760.3 235.9,761 236.4,760.8 236.8,761.3 237.3,761.2 237.7,761 238.2,761.6 238.6,760.9 239.1,760.8 239.5,760.8 240,761 240.5,760.7 240.9,761 241.4,760.3 241.8,760.9 242.3,761.1 242.7,761.3 243.2,760.8 243.6,761.4 244.1,760.6 244.5,760.8 245,760.2 245.5,760.5 245.9,760.5 246.4,761.3 246.8,761 247.3,760.4 247.7,760.9 248.2,760.9 248.6,760.6 249.1,760.7 249.5,760.6 250,760.5 250.5,760 250.9,760.6 251.4,761.1 251.8,761.1 252.3,760.5 252.7,760.3 253.2,760.5 253.6,760.9 254.1,760.7 254.5,760.3 255,760.5 255.5,760.7 255.9,760.5 256.4,760.8 256.8,760.4 257.3,760.1 257.8,760.6 258.2,760.9 258.7,760.3 259.1,760.6 259.6,761 260,760.6 260.5,760.5 261,761.5 261.4,761.1 261.9,761.2 262.3,760.5 262.8,761.4 263.2,760.3 263.7,760.7 264.2,761.2 264.6,761.4 265.1,760.6 265.5,760.7 266,761" stroke="#151515" stroke-width="1.4" fill="none" stroke-linejoin="round"/>
<polyline points="328.5,761.2 329,761.1 329.5,759.9 330,760.8 330.4,760.5 330.9,759.9 331.4,760.1 331.9,759.6 332.4,759.5 332.9,758.8 333.4,758.4 333.9,758.5 334.4,756.9 334.9,756.8 335.4,756.2 335.9,755 336.3,754.9 336.8,753.1 337.2,752.7 337.7,751.5 338.2,750.2 338.6,748.8 339.1,748.6 339.5,745.9 340,744.6 340.5,743.4 340.9,740.6 341.4,738.7 341.8,735.2 342.3,733 342.8,731.1 343.2,728.2 343.7,724.1 344.1,722.2 344.6,719.2 345.1,716.3 345.5,713.6 346,712.3 346.4,707.4 346.9,705.4 347.4,698.8 347.9,694.1 348.3,691 348.8,687 349.3,680.5 349.9,675.7 350.4,670 350.9,659.8 351.5,648 352,647.1 352.4,641.3 352.9,637.3 353.4,632.3 353.8,625.8 354.4,618.8 355,614.2 355.6,610.6 356.2,605 356.8,603.8 357.3,598 357.9,596.9 358.5,591.2 359.1,585.4 359.6,586.5 360.2,584.6 360.8,579.6 361.4,575.6 361.9,565.8 362.5,570.8 363.1,572.7 363.6,564.2 364.2,561.2 364.8,565.2 365.4,570.4 365.9,566.3 366.5,560 367.1,567.1 367.7,572.7 368.2,564.8 368.8,560 369.5,579.6 370,575.7 370.5,575 371.1,584.8 371.6,591.2 372.2,593.5 372.8,600.4 373.3,605.9 373.7,606.6 374.2,609.6 374.8,617 375.3,623.5 375.9,628.3 376.5,637.3 377.4,651.2 378.1,670 378.6,674.4 379,681.4 379.5,683.9 379.9,693.5 380.4,696.2 380.9,698.2 381.3,702.2 381.8,707.3 382.2,711.4 382.7,714.6 383.2,717.7 383.6,718.9 384.1,721.4 384.5,723.7 385,726.2 385.5,728 385.9,728.9 386.4,733.9 386.8,735.6 387.3,737.7 387.8,739.7 388.2,740.9 388.7,743.4 389.1,745.1 389.6,746.9 390.1,747.8 390.6,749.6 391.1,748.7 391.6,751 392.1,751.2 392.6,752.6 393.1,753.8 393.6,755.2 394.1,754.2 394.6,755.2 395,755.5 395.5,756.8 396,756.3 396.5,757.3 397,756.7 397.4,758.2 397.9,758 398.4,758.3 398.9,759.3 399.3,758.7 399.8,759.2 400.3,759.8 400.7,760.2 401.2,760.3 401.7,760.2 402.1,761 402.6,761.6 403.1,760.7 403.6,761.8 404,760.3 404.5,761.9 405,761.3 405.5,761.6 405.9,761.6 406.4,761.6 406.9,762 407.4,761.6 407.8,762 408.3,762.7 408.7,762.7 409.2,762.2 409.7,762.2 410.1,762.2 410.6,762.1 411,763.2 411.5,762.9 412,762.8 412.4,762.6 412.9,762.5 413.3,763.4 413.8,763 414.4,762.9 415,762.2 415.6,762.2 416.3,763 417,763 417.6,762.4 418.2,762.2 418.9,762.8 419.6,762.7 420.2,762.1 420.9,762.3 421.5,763.2 422.2,762.9 422.8,762.9 423.5,762.8 424.1,762.3 424.8,762.4 425.4,762.2 426.1,762.5 426.7,762.1 427.4,762.1 428,762.7 428.7,763.3 429.3,762.9 430,762.9 430.6,761.9 431.3,762.2 431.9,762.4 432.6,763 433.2,763.2 433.9,762.9 434.5,763.1 435.2,762 435.8,761 436.5,761.5 437.1,763 437.8,762.8 438.4,762.6 439.1,762.5 439.7,762.3 440.4,763.2 441,763.2 441.7,763.5 442.3,763.2 443,763.3 443.6,763 444.3,763 444.9,763.2 445.6,763.1 446.2,763.1 446.9,762.8 447.5,762.7 448.2,762.6 448.8,762.3 449.5,762.1 450.1,763.1 450.8,762.7 451.4,761.7 452.1,761.6 452.7,762.7 453.4,762.2 454,762 454.7,762.6 455.3,763.1 456,762.4 456.6,762 457.3,763.2 457.9,763.3 458.6,762.9 459.2,762.6 459.9,763.4 460.5,763.1 461.2,762.2 461.8,760.3 462.5,761.6 463.1,763.3 463.8,763 464.4,762.5 465.1,762.8 465.7,762.1 466.4,762.5 467,763 467.7,762.9 468.3,762.7 469,762.8 469.6,763.2 470.3,763.1 470.9,763 471.6,763 472.2,763.2 472.9,762.8 473.5,762.4 474.2,762.9 474.8,762.8 475.5,763.2 476.1,762.6 476.8,762.1 477.4,761.6 478.1,762.3 478.7,762.8 479.4,763.1 480,762.7 480.7,762.9 481.3,763.3 482,762.5 482.6,762.4 483.3,763 483.9,762.8 484.6,762.3 485.2,762.4 485.9,763.1 486.5,763.2 487.2,762.3 487.8,762.2 488.5,763.1 489.1,762.7 489.8,762.6 490.4,763.2 491.1,763.2 491.7,762.6 492.4,763.1 493,762.6 493.7,762.4 494.3,762.9 495,762.9 495.6,761.8 496.3,762.1 496.9,763 497.6,762.3 498.2,762.8" stroke="#151515" stroke-width="1.5" fill="none" stroke-linejoin="round"/>
<polyline points="93.1,1040 93.6,1040 94.1,1039.7 94.6,1039.1 95,1038 95.5,1038.5 96,1038.2 96.5,1038 97,1037.6 97.5,1037.4 98,1036.5 98.5,1036.8 98.9,1037.8 99.4,1037.4 99.9,1036.2 100.4,1036.2 100.9,1035.9 101.4,1036.6 101.8,1037.1 102.3,1037 102.8,1036.2 103.2,1037 103.7,1037.1 104.2,1037.1 104.7,1037.7 105.2,1037.5 105.7,1037 106.2,1037.3 106.6,1036.3 107.1,1037.2 107.6,1036.1 108.1,1036.2 108.6,1035.9 109,1035.7 109.5,1034.2 110,1033.8 110.5,1032.7 111,1033.4 111.4,1032.8 111.9,1032.3 112.4,1031.9 112.9,1032.3 113.3,1030.5 113.8,1031.6 114.3,1031.5 114.8,1031.3 115.3,1030.8 115.8,1031.2 116.2,1031.5 116.7,1029.7 117.2,1029.1 117.7,1029.4 118.2,1027.8 118.7,1027.1 119.1,1026.2 119.6,1024.6 120.1,1022 120.5,1021.6 121,1017.9 121.5,1016.9 122,1016.2 122.5,1014.4 123,1013.1 123.5,1011.2 124,1010.9 124.5,1006.1 124.9,1003.8 125.4,1001.5 125.9,1000.1 126.4,998.7 126.9,995.8 127.4,988.4 127.8,984.6 128.3,978.5 128.9,970.7 129.6,965 130.1,962.7 130.7,960.6 131.2,955.4 131.8,951.8 132.4,948 133.1,936.5 133.6,931.8 134.1,927.8 134.6,923 135.1,914.9 135.5,915.4 136,909.6 136.4,905.8 136.9,900 137.4,883 137.9,865.4 138.4,874.2 138.8,884.6 139.3,893.8 139.8,905.8 140.3,887.2 140.8,869.2 141.7,913.5 142.2,898.4 142.7,878.8 143.2,870.6 143.7,865.5 144.2,854.8 144.7,859.7 145.2,873 145.7,879.9 146.2,888.5 146.8,884.2 147.5,878.8 148,883.6 148.5,888.5 149,885.8 149.4,888.2 149.9,892.3 150.4,890.4 150.9,890.9 151.3,896.2 151.8,898.2 152.2,901.9 152.7,907.7 153.2,911.5 153.8,917.3 154.3,913.9 154.7,909.4 155.2,903.8 155.7,918.6 156.2,940.4 156.6,926.5 157.1,907.7 157.6,918.2 158.1,930.8 158.6,934.4 159,940 159.5,940.9 160,936.5 160.5,941 161,945.8 161.5,947.3 161.9,951.5 162.4,954.8 162.9,959.2 163.4,967.5 163.8,978.5 164.3,968.4 164.8,959.2 165.3,958.6 165.8,955.4 166.7,978.5 167.2,983.4 167.6,985.8 168.1,991.9 168.6,995 169.1,992 169.6,993.8 170.1,994.9 170.6,995.8 171,997.6 171.5,997.7 172,1000.5 172.6,1004.6 173.1,1007.3 173.8,1016 174.4,1020.8 174.9,1021.8 175.4,1021.8 175.8,1023.9 176.3,1024.6 176.8,1025.2 177.3,1026.7 177.8,1028.3 178.3,1029.4 178.8,1030.8 179.2,1031.6 179.7,1033.5 180.2,1034.2 180.7,1034.6 181.2,1034.4 181.6,1036.1 182.1,1035.9 182.6,1037.2 183.1,1037.1 183.6,1036.9 184.1,1037.6 184.6,1037.6 185.2,1036.5 185.7,1036.9 186.2,1037.7 186.7,1037.3 187.1,1038.5 187.6,1037.1 188,1038.4 188.5,1038.6 188.9,1038.4 189.4,1038.5 189.8,1038.1 190.3,1038.4 190.7,1038.5 191.2,1038.7 191.6,1038.9 192.1,1038.6 192.5,1038.4 193,1038.8 193.5,1038.6 193.9,1039 194.4,1038.1 194.9,1038.3 195.3,1038.6 195.8,1038.6 196.2,1038.7 196.7,1037.9 197.2,1038.7 197.6,1038.7 198.1,1039.1 198.6,1038 199,1038.7 199.5,1039 200,1039 200.4,1039.3 200.9,1039.2 201.4,1038.4 201.8,1039.1 202.3,1038.7 202.7,1038.5 203.2,1039.4 203.7,1038.5 204.1,1038.4 204.6,1038.8 205.1,1038.7 205.5,1038.5 206,1039.3 206.4,1039 206.9,1039.5 207.3,1039.1 207.8,1038.7 208.2,1039.4 208.7,1038.7 209.1,1038.8 209.6,1039 210,1039.1 210.5,1039.5 210.9,1038.8 211.4,1039.2 211.8,1039.1 212.3,1038.7 212.8,1038.7 213.2,1039.1 213.7,1039.4 214.1,1039.4 214.6,1039.4 215,1039.3 215.5,1039.1 215.9,1039.5 216.4,1038.9 216.8,1038.8 217.3,1039.2 217.7,1038.9 218.2,1039.2 218.6,1039.2 219.1,1039.2 219.5,1039.5 220,1039.5 220.5,1039.2 220.9,1039.3 221.4,1038.8 221.8,1039.5 222.3,1039.1 222.8,1039.5 223.2,1038.6 223.7,1039 224.1,1039.4 224.6,1038.5 225,1039.1 225.5,1039.3 226,1039.3 226.4,1038.6 226.9,1039.3 227.3,1039.2 227.8,1038.8 228.2,1039.4 228.7,1039.1 229.2,1039.1 229.6,1038.9 230.1,1039.3 230.5,1039.1 231,1039 231.5,1038.8 232,1037.7 232.5,1036.4 233,1036 233.5,1036.6 234,1037.9 234.5,1038.1 235,1039 235.5,1039.2 235.9,1039.2 236.4,1038.9 236.8,1038.2 237.3,1039.1 237.7,1039.1 238.2,1039.1 238.6,1038.7 239.1,1039.5 239.5,1038.9 240,1038.7 240.5,1038.7 240.9,1039.1 241.4,1038.6 241.8,1038.6 242.3,1039.8 242.7,1039.5 243.2,1039.4 243.6,1039.6 244.1,1039.2 244.5,1038.3 245,1039.5 245.5,1039.5 245.9,1039.2 246.4,1038.2 246.8,1039.5 247.3,1039.6 247.7,1038.8 248.2,1039.1 248.6,1039.3 249.1,1039 249.5,1039.4 250,1039 250.5,1038.3 251,1037.8 251.5,1036.8 252,1036 252.5,1036 253,1037 253.5,1039.2 254,1039 254.5,1039.2 254.9,1039.6 255.4,1039.6 255.8,1039.8 256.3,1039.4 256.8,1039 257.2,1039.3 257.7,1038.6 258.2,1039.3 258.6,1039.7 259.1,1038.6 259.5,1039.5 260,1039.8 260.5,1040 260.9,1039.2 261.4,1039.4 261.8,1039 262.3,1039.3 262.8,1039.9 263.2,1040.5 263.7,1039.4 264.2,1040.3 264.6,1040 265.1,1039.8 265.5,1040.5 266,1040" stroke="#111" stroke-width="2.0" fill="none" stroke-linejoin="round"/>
<polyline points="317.2,1021 317.7,1018.8 318.2,1014.1 318.7,1013.1 319.1,1010.1 319.6,1007.3 320.1,1002.7 320.6,997.7 321.2,997.2 321.9,991.9 322.4,991.5 323,989.3 323.5,984.2 324,982.5 324.5,981.7 325,978.5 325.6,970.8 326.3,959.2 326.8,952.9 327.3,945 327.7,934.6 328.2,932.3 328.8,928.8 329.3,926.6 329.7,924.2 330.2,923 330.7,924.8 331.2,930.8 331.6,924.5 332.1,911.5 332.6,904.9 333.1,900 334,894.2 334.5,885.5 335,884.6 335.5,879.3 336,873 336.9,888.5 337.4,886.5 337.9,884.6 338.4,891.6 338.8,898 339.3,906.2 339.8,907.7 340.3,897.9 340.8,888.5 341.7,865.4 342.2,862 342.7,859.6 343.2,862.9 343.7,869.2 344.1,863.4 344.6,857.7 345.1,865.5 345.6,875 346.5,865.4 347,872.5 347.5,878.8 348,880 348.5,873 349.4,869.2 349.9,861.4 350.4,851.9 350.9,863.6 351.3,878.8 351.8,885.5 352.3,884.6 352.8,888.2 353.3,888.5 354.2,898 354.7,895.7 355.2,890.4 355.7,900.4 356.2,907.7 356.6,906.3 357.1,901.9 357.6,908.9 358.1,913.5 358.6,919.1 359.1,921.6 359.6,923 360.1,921.5 360.5,914.4 361,911.5 361.9,934.6 362.4,930.7 363,925.6 363.5,923 364.1,933.1 364.6,940 365.2,950.9 365.8,959.2 366.3,960.9 366.8,964.8 367.2,969.3 367.7,968.8 368.2,977.2 368.7,982.3 369.4,984.8 370,990 370.6,996.6 371.2,1003.5 371.9,1010.8 372.5,1016.9 373,1018.8 373.4,1021.1 373.9,1023.6 374.4,1024.6 374.9,1025.8 375.4,1025.7 375.8,1028 376.3,1028.5 376.8,1028.9 377.3,1029.5 377.8,1029.5 378.3,1030.4 378.8,1030 379.2,1030.5 379.7,1031.6 380.2,1032.3 380.7,1032.1 381.1,1032 381.6,1034.4 382.1,1034.2 382.6,1033.9 383.1,1034.5 383.6,1035.5 384,1034.4 384.5,1036.6 385,1036.2 385.5,1035.9 385.9,1036.8 386.4,1036.3 386.9,1036.8 387.4,1036.8 387.9,1036.9 388.3,1036.1 388.8,1037.1 389.3,1036.5 389.8,1037.2 390.2,1038 390.7,1037.1 391.2,1037.7 391.7,1037.6 392.2,1037.9 392.7,1038.2 393.2,1037.1 393.6,1038 394.1,1037.8 394.6,1038 395.1,1037.9 395.6,1037.8 396.1,1037.9 396.5,1037.9 397,1037.9 397.5,1039.4 398,1039.3 398.5,1038.7 398.9,1039.1 399.4,1038.4 399.9,1038.1 400.4,1039 400.9,1038.3 401.3,1039.1 401.8,1039.6 402.2,1039.1 402.7,1038.7 403.1,1039 403.6,1038.8 404,1038.6 404.5,1039.1 405,1039.1 405.4,1038.9 405.9,1038.9 406.3,1038.9 406.8,1039.4 407.2,1039.9 407.7,1039.3 408.1,1040.2 408.6,1038.8 409.1,1039.5 409.5,1039 410,1039.4 410.4,1039.5 410.9,1039.7 411.3,1040 411.8,1039.4 412.3,1039.2 412.7,1039.6 413.2,1039.8 413.6,1039.4 414.1,1040 414.5,1040.3 415,1039.2 415.4,1039.9 415.9,1040.1 416.4,1039.1 416.8,1039.9 417.3,1039.8 417.7,1039.4 418.2,1040.4 418.6,1040 419.1,1039.8 419.5,1040.1 420,1040" stroke="#111" stroke-width="2.0" fill="none" stroke-linejoin="round"/>
<polyline points="92.9,1271.5 93.4,1271.6 93.9,1271.5 94.4,1271.3 95,1271.1 95.5,1270.4 96,1270.6 96.5,1270.6 97,1269.7 97.4,1267.7 97.9,1268.7 98.3,1266.6 98.8,1265.8 99.3,1263.2 99.9,1260.8 100.4,1260 100.9,1257 101.4,1253.6 101.9,1250.4 102.7,1248 103.2,1242.7 103.8,1238.5 104.3,1234.2 104.7,1229.9 105.2,1226.9 105.8,1219.4 106.5,1213.5 107,1208.9 107.6,1203.7 108.1,1200 108.5,1195.1 109,1188.5 109.5,1184.5 110,1180.8 110.5,1180 111,1179.4 111.4,1179.6 111.9,1176.9 112.4,1176.3 112.8,1174.4 113.3,1172.4 113.8,1171.2 114.3,1165.2 114.8,1161.5 115.3,1157.3 115.8,1154.2 116.3,1154.3 116.8,1152.6 117.2,1150.8 117.7,1150.4 118.2,1146.9 118.7,1145.1 119.1,1146.6 119.6,1144.6 120.1,1145.3 120.5,1143.3 121,1139.6 121.5,1140.8 122,1138.5 122.5,1137.3 123,1133.5 123.5,1133.1 124,1131.7 124.5,1128.9 124.9,1125.9 125.4,1125.4 125.9,1122 126.4,1124.2 126.9,1121.5 127.4,1119.5 127.8,1114.9 128.3,1113.8 128.9,1108.2 129.6,1106.2 130.1,1105.5 130.7,1102.7 131.2,1099.4 131.7,1099.5 132.2,1103.5 132.7,1101.3 133.5,1106.2 134.2,1125.4 135,1102.3 135.5,1099.4 136,1097.5 136.4,1088.8 136.9,1084 137.4,1093.2 137.9,1098.5 138.4,1097.2 138.8,1096.5 139.3,1101 139.8,1104.2 140.3,1106.8 140.7,1107.6 141.2,1111.9 141.8,1110.8 142.3,1113.8 142.8,1113.5 143.2,1116.2 143.7,1113.8 144.1,1115.9 144.6,1121.5 145.1,1128.6 145.6,1131.2 146.1,1136.4 146.5,1140.8 147.1,1141.4 147.6,1145.8 148.1,1148.6 148.7,1150 149.3,1153.4 150,1159.6 150.5,1161.1 151.1,1169.1 151.6,1173.1 152.1,1176.7 152.6,1184 153.1,1188.5 153.6,1186.6 154,1189.6 154.5,1190.4 155.1,1194.2 155.8,1200 156.3,1200.8 156.9,1204.8 157.4,1207.7 157.9,1210.3 158.3,1211.9 158.8,1213.6 159.3,1217.3 159.8,1218.7 160.2,1217.7 160.7,1221.4 161.1,1222.5 161.6,1223.1 162.1,1226.8 162.6,1227.9 163.1,1229 163.6,1232.3 164.1,1235 164.6,1237.2 165.1,1238.9 165.5,1239.6 166,1242.7 166.5,1245.4 166.9,1246 167.4,1246.8 167.9,1248.5 168.4,1248.5 168.9,1251.6 169.3,1251.8 169.8,1251.4 170.3,1253.8 170.8,1254.2 171.5,1261.9 172,1264.2 172.5,1264.3 173,1265.7 173.5,1266.7 174,1266.5 174.4,1266.4 174.9,1267.3 175.4,1266.7 175.9,1267.9 176.4,1267.1 176.9,1267.1 177.3,1267.8 177.8,1267.4 178.3,1267.7 178.8,1268.4 179.3,1268.7 179.8,1268.2 180.2,1268.5 180.7,1269.2 181.2,1269.6 181.7,1270.3 182.1,1270.3 182.6,1271.1 183.1,1270.3 183.5,1271.4 184,1271.5 184.5,1271.3 184.9,1271.5 185.4,1271.6 185.8,1271.1 186.3,1271.3 186.8,1270.9 187.2,1271.5 187.7,1271 188.1,1271.1 188.6,1271.4 189,1271 189.5,1271.7 190,1271 190.4,1271.5 190.9,1271.3 191.3,1270.8 191.8,1271.1 192.2,1270.8 192.7,1271 193.2,1271 193.6,1271.8 194.1,1270.9 194.5,1271.6 195,1271 195.5,1271.2 195.9,1270.6 196.4,1270.4 196.8,1271.4 197.3,1270.5 197.7,1271.5 198.2,1271.7 198.6,1271.5 199.1,1271.3 199.5,1271.4 200,1271.6 200.5,1271.4 200.9,1271.4 201.4,1271.5 201.8,1272.1 202.3,1271.5 202.7,1271.9 203.2,1271.4 203.6,1271.6 204.1,1271.5 204.5,1271.9 205,1272" stroke="#111" stroke-width="2.0" fill="none" stroke-linejoin="round"/>
<polyline points="316.5,1270.4 317,1270.6 317.5,1270.4 317.9,1270 318.4,1270.4 318.9,1269.9 319.4,1270.2 319.9,1270 320.4,1270.1 320.9,1268.9 321.3,1269.2 321.8,1270 322.3,1269.6 322.8,1269.1 323.3,1269.6 323.8,1268.1 324.2,1267.4 324.7,1268 325.2,1267 325.7,1267.3 326.2,1265.8 326.7,1264.2 327.1,1261.8 327.6,1260.4 328.1,1258 328.6,1255.2 329.1,1253.3 329.5,1251 330,1249 330.5,1247 331,1243.8 331.4,1238.8 331.9,1235.4 332.5,1227.6 333.1,1219.2 333.6,1212.9 334.2,1207.7 334.7,1201.9 335.3,1191.1 335.8,1187 336.3,1180.5 336.7,1174.9 337.2,1168.5 337.7,1155.2 338.2,1145.4 338.6,1141.3 339.1,1133.8 340,1124.6 340.6,1119.2 341.2,1113.1 341.8,1109.7 342.3,1101.5 342.9,1099.9 343.5,1094.6 344.1,1092.4 344.6,1087.7 345.2,1085.7 345.8,1084.2 346.4,1086.1 346.9,1092.3 347.5,1098.8 348.1,1106.2 348.6,1103 349.2,1101.5 349.8,1099.7 350.4,1096.9 350.9,1097.2 351.5,1099.2 352.1,1101.4 352.7,1095.8 353.2,1096.8 353.8,1103.8 354.4,1103.7 355,1099.2 355.6,1101.8 356.2,1106.2 356.8,1110.4 357.3,1115.4 357.9,1121.7 358.5,1124.6 359.1,1121.2 359.6,1117.7 360.2,1114.4 360.8,1115.4 361.4,1118.4 361.9,1120 362.5,1112.1 363.1,1105 363.6,1109.9 364.2,1122.3 364.8,1126.1 365.4,1129.2 365.9,1129.7 366.5,1133.8 367.1,1138.3 367.7,1145.4 368.2,1140.4 368.8,1133.8 369.4,1129.7 370,1124.6 370.6,1113.7 371.2,1103.8 371.8,1112.3 372.3,1113.1 372.9,1117.3 373.5,1120 374.1,1109.6 374.6,1101.5 375.2,1098.5 375.8,1094.6 376.4,1100.2 376.9,1106.2 377.5,1095.3 378.1,1092.3 378.6,1097.4 379.2,1108.5 379.8,1100.1 380.4,1096.9 380.9,1094 381.5,1083.1 382.1,1100.1 382.7,1117.7 383.2,1128.8 383.8,1140.8 384.4,1132.9 385,1126.9 385.6,1133.2 386.2,1136.2 386.8,1133.9 387.3,1131.5 387.9,1129.9 388.5,1122.3 389.1,1126 389.6,1126.9 390.2,1136.7 390.8,1140.8 391.4,1146.4 391.9,1152.3 392.5,1155.2 393.1,1157 393.6,1155.1 394.2,1154.6 394.8,1158.9 395.4,1163.8 395.9,1171.6 396.5,1184.6 397,1187 397.4,1189.8 397.9,1193.4 398.3,1199.2 398.8,1200.8 399.3,1204.8 399.8,1209.7 400.2,1212.9 400.7,1216.6 401.2,1219.2 401.7,1223.6 402.1,1225 402.6,1229.8 403,1231.8 403.5,1235.4 404,1236.6 404.4,1240 404.9,1242.5 405.3,1241.4 405.8,1244 406.3,1247.9 406.7,1249.5 407.2,1250.5 407.6,1253.8 408.1,1256 408.6,1258.2 409.2,1260.2 409.7,1261.7 410.3,1263.1 410.8,1265.8 411.3,1266.2 411.8,1267 412.2,1267.3 412.7,1267.6 413.2,1268.2 413.7,1267.6 414.1,1268.4 414.6,1268.8 415.1,1269 415.6,1269.4 416.1,1269.1 416.5,1269.3 417,1269.2 417.5,1270.1 418,1268.4 418.5,1269.3 418.9,1270.3 419.4,1269.6 419.9,1268.7 420.4,1269.6 420.9,1269.7 421.3,1269 421.8,1269.3 422.2,1269.7 422.7,1270.3 423.1,1269.8 423.6,1269.9 424,1270 424.5,1269.7 424.9,1269.2 425.4,1269.6 425.8,1269.7 426.3,1269.5 426.7,1269.3 427.2,1269.4 427.6,1269 428.1,1269.6 428.6,1269.2 429,1269.7 429.5,1269.6 429.9,1269.8 430.4,1270.4 430.8,1270 431.3,1269.9 431.7,1269.5 432.2,1269.6 432.6,1270.2 433.1,1269.8 433.5,1270.3 434,1269.8 434.4,1270.3 434.9,1270.3 435.3,1270.7 435.8,1270.4 436.3,1270.3 436.7,1270.3 437.2,1270.6 437.6,1270.5 438.1,1271.1 438.5,1270.4 439,1270.3 439.5,1270.4 439.9,1270.8 440.4,1270.7 440.8,1270.9 441.3,1270.1 441.8,1271.4 442.2,1271.4 442.7,1270.7 443.1,1270.3 443.6,1270.8 444,1270.9 444.5,1270 445,1270.8 445.4,1270.3 445.9,1271 446.3,1271.3 446.8,1271.2 447.3,1270.3 447.7,1271.4 448.2,1271.2 448.6,1270.8 449.1,1271.1 449.5,1271.5 450,1271" stroke="#111" stroke-width="1.8" fill="none" stroke-linejoin="round"/>
<rect x="416.3" y="760" width="3.4" height="8" fill="#fff"/>
<text x="0.14" y="23.20" font-size="32.03" font-weight="bold" textLength="24.45" lengthAdjust="spacingAndGlyphs" font-family="Liberation Sans, sans-serif">A</text>
<text x="0.17" y="541.60" font-size="32.03" font-weight="bold" textLength="21.16" lengthAdjust="spacingAndGlyphs" font-family="Liberation Sans, sans-serif">B</text>
<text x="0.87" y="840.90" font-size="32.75" font-weight="bold" textLength="22.08" lengthAdjust="spacingAndGlyphs" font-family="Liberation Sans, sans-serif">C</text>
<text x="133.60" y="21.60" font-size="27.83" textLength="92.84" lengthAdjust="spacingAndGlyphs" font-family="Liberation Sans, sans-serif">HSPGs</text>
<text x="379.91" y="22.00" font-size="28.41" textLength="80.51" lengthAdjust="spacingAndGlyphs" font-family="Liberation Sans, sans-serif">NRP-1</text>
<text transform="translate(22.30,167.29) rotate(-90)" font-size="27.97" textLength="83.49" lengthAdjust="spacingAndGlyphs" font-family="Liberation Sans, sans-serif">MDDC</text>
<text transform="translate(22.30,384.49) rotate(-90)" font-size="27.97" textLength="59.77" lengthAdjust="spacingAndGlyphs" font-family="Liberation Sans, sans-serif">COS</text>
<text transform="translate(30.90,977.51) rotate(-90)" font-size="24.64" textLength="77.94" lengthAdjust="spacingAndGlyphs" font-family="Liberation Sans, sans-serif">HTLV-1</text>
<text transform="translate(30.90,1195.62) rotate(-90)" font-size="24.64" textLength="59.09" lengthAdjust="spacingAndGlyphs" font-family="Liberation Sans, sans-serif">HIV-1</text>
<text transform="translate(68.00,156.59) rotate(-90)" font-size="15.51" textLength="68.53" lengthAdjust="spacingAndGlyphs" font-family="Liberation Sans, sans-serif">Cell count</text>
<text transform="translate(302.00,156.07) rotate(-90)" font-size="15.80" textLength="68.25" lengthAdjust="spacingAndGlyphs" font-family="Liberation Sans, sans-serif">Cell count</text>
<text transform="translate(68.00,384.08) rotate(-90)" font-size="15.80" textLength="68.56" lengthAdjust="spacingAndGlyphs" font-family="Liberation Sans, sans-serif">Cell count</text>
<text transform="translate(306.80,384.37) rotate(-90)" font-size="15.80" textLength="68.25" lengthAdjust="spacingAndGlyphs" font-family="Liberation Sans, sans-serif">Cell count</text>
<text transform="translate(71.20,692.57) rotate(-90)" font-size="15.94" textLength="68.44" lengthAdjust="spacingAndGlyphs" font-family="Liberation Sans, sans-serif">Cell count</text>
<text transform="translate(312.90,692.66) rotate(-90)" font-size="16.09" textLength="68.64" lengthAdjust="spacingAndGlyphs" font-family="Liberation Sans, sans-serif">Cell count</text>
<text transform="translate(80.20,966.69) rotate(-90)" font-size="15.80" textLength="69.27" lengthAdjust="spacingAndGlyphs" font-family="Liberation Sans, sans-serif">Cell count</text>
<text transform="translate(303.80,966.69) rotate(-90)" font-size="15.80" textLength="69.27" lengthAdjust="spacingAndGlyphs" font-family="Liberation Sans, sans-serif">Cell count</text>
<text transform="translate(80.20,1197.27) rotate(-90)" font-size="15.80" textLength="68.15" lengthAdjust="spacingAndGlyphs" font-family="Liberation Sans, sans-serif">Cell count</text>
<text transform="translate(303.80,1197.27) rotate(-90)" font-size="15.80" textLength="68.15" lengthAdjust="spacingAndGlyphs" font-family="Liberation Sans, sans-serif">Cell count</text>
<text x="134.37" y="537.60" font-size="25.36" textLength="104.83" lengthAdjust="spacingAndGlyphs" font-family="Liberation Sans, sans-serif">No VEGF</text>
<text x="237.13" y="545.50" font-size="13.77" textLength="24.59" lengthAdjust="spacingAndGlyphs" font-family="Liberation Sans, sans-serif">165</text>
<text x="369.11" y="539.20" font-size="24.93" textLength="88.46" lengthAdjust="spacingAndGlyphs" font-family="Liberation Sans, sans-serif">+ VEGF</text>
<text x="453.98" y="545.50" font-size="14.20" textLength="24.21" lengthAdjust="spacingAndGlyphs" font-family="Liberation Sans, sans-serif">165</text>
<text x="129.33" y="836.30" font-size="24.93" textLength="104.94" lengthAdjust="spacingAndGlyphs" font-family="Liberation Sans, sans-serif">No VEGF</text>
<text x="232.93" y="844.50" font-size="14.49" textLength="23.54" lengthAdjust="spacingAndGlyphs" font-family="Liberation Sans, sans-serif">165</text>
<text x="364.61" y="838.30" font-size="24.93" textLength="88.26" lengthAdjust="spacingAndGlyphs" font-family="Liberation Sans, sans-serif">+ VEGF</text>
<text x="449.01" y="844.50" font-size="14.49" textLength="23.96" lengthAdjust="spacingAndGlyphs" font-family="Liberation Sans, sans-serif">165</text>
<text x="161.76" y="491.40" font-size="23.77" textLength="264.36" lengthAdjust="spacingAndGlyphs" font-family="Liberation Sans, sans-serif">Cell Surface Expression</text>
<text x="194.33" y="787.90" font-size="23.62" textLength="199.60" lengthAdjust="spacingAndGlyphs" font-family="Liberation Sans, sans-serif">HTLV-1 SU Binding</text>
<text x="195.60" y="1296.60" font-size="24.06" textLength="218.03" lengthAdjust="spacingAndGlyphs" font-family="Liberation Sans, sans-serif">Virus Internalization</text>
<path d="M72,483.5H155.6" stroke="#000" stroke-width="3" fill="none"/>
<path d="M431.4,483.3H508.8" stroke="#000" stroke-width="3" fill="none"/><path d="M514.8,483.3L505.3,478.3L508.3,483.3L505.3,488.3Z" fill="#000" stroke="#000" stroke-width="1.2" stroke-linejoin="round"/>
<path d="M86.9,778H171.5" stroke="#000" stroke-width="3" fill="none"/>
<path d="M419.3,779H496.2" stroke="#000" stroke-width="3" fill="none"/><path d="M502.2,779L492.7,774L495.7,779L492.7,784Z" fill="#000" stroke="#000" stroke-width="1.2" stroke-linejoin="round"/>
<path d="M91.7,1291.2H175" stroke="#000" stroke-width="3" fill="none"/>
<path d="M431.2,1291.1H509.4" stroke="#000" stroke-width="3" fill="none"/><path d="M515.4,1291.1L505.9,1286.1L508.9,1291.1L505.9,1296.1Z" fill="#000" stroke="#000" stroke-width="1.2" stroke-linejoin="round"/>
</svg></body></html>
